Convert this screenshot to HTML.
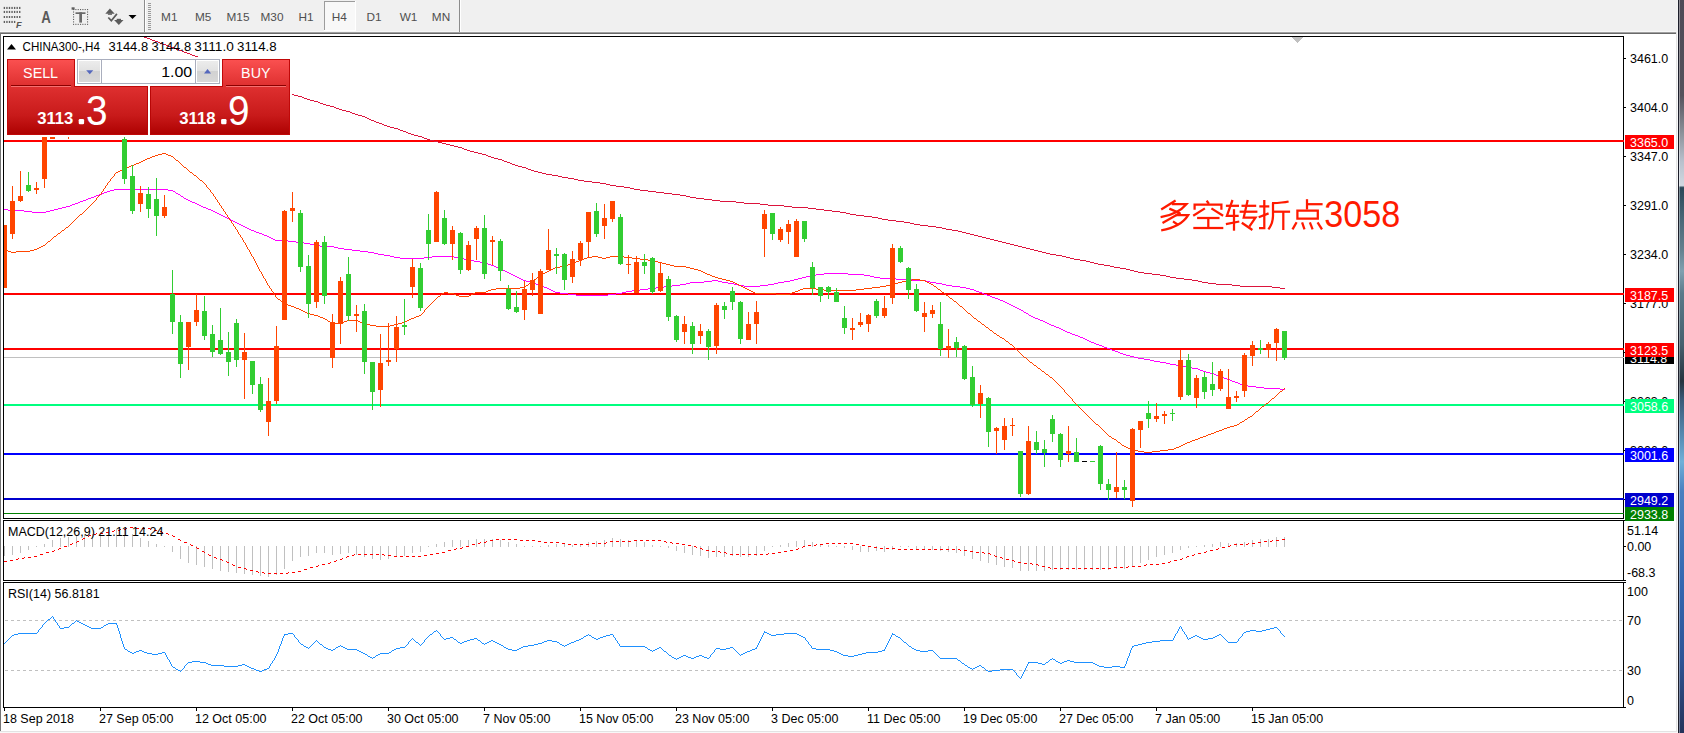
<!DOCTYPE html>
<html><head><meta charset="utf-8"><title>CHINA300 H4</title>
<style>html,body{margin:0;padding:0;background:#fff}body{width:1684px;height:733px;overflow:hidden;position:relative}</style></head>
<body>
<svg width="1684" height="733" viewBox="0 0 1684 733" style="position:absolute;left:0;top:0;font-family:'Liberation Sans',sans-serif">
<defs>
<linearGradient id="gSell" x1="0" y1="0" x2="0" y2="1"><stop offset="0" stop-color="#fb5151"/><stop offset="1" stop-color="#de2f2f"/></linearGradient>
<linearGradient id="gPrice" x1="0" y1="0" x2="0" y2="1"><stop offset="0" stop-color="#df3030"/><stop offset="0.6" stop-color="#c81a1a"/><stop offset="1" stop-color="#ad0000"/></linearGradient>
<linearGradient id="gBtn" x1="0" y1="0" x2="0" y2="1"><stop offset="0" stop-color="#ececec"/><stop offset="0.45" stop-color="#e2e2e2"/><stop offset="0.5" stop-color="#d2d2d2"/><stop offset="1" stop-color="#d8d8d8"/></linearGradient>
<linearGradient id="gEdge" x1="0" y1="0" x2="0" y2="1"><stop offset="0" stop-color="#4e4a56"/><stop offset="0.13" stop-color="#55525c"/><stop offset="0.15" stop-color="#6a6a74"/><stop offset="0.18" stop-color="#8a9098"/><stop offset="0.22" stop-color="#b8c0cc"/><stop offset="0.253" stop-color="#d0d8e0"/><stop offset="0.256" stop-color="#2a4858"/><stop offset="0.3" stop-color="#4a6878"/><stop offset="0.34" stop-color="#64808e"/><stop offset="0.37" stop-color="#80a0b0"/><stop offset="0.4" stop-color="#5a7a8a"/><stop offset="0.47" stop-color="#46606e"/><stop offset="0.52" stop-color="#26343f"/><stop offset="0.545" stop-color="#3a5a78"/><stop offset="0.6" stop-color="#5a90b8"/><stop offset="0.63" stop-color="#70b0d8"/><stop offset="0.67" stop-color="#4a80c0"/><stop offset="0.8" stop-color="#3466b0"/><stop offset="0.9" stop-color="#2e5496"/><stop offset="0.96" stop-color="#2a4070"/><stop offset="1" stop-color="#24335a"/></linearGradient>
<clipPath id="clipMain"><rect x="4" y="37" width="1619" height="481"/></clipPath>
</defs>
<g shape-rendering="crispEdges">
<rect x="0" y="0" width="1684" height="733" fill="#ffffff"/>
<rect x="0" y="0" width="1677" height="32" fill="#f0f0f0"/>
<rect x="0" y="31" width="1677" height="1" fill="#f7f7f7"/>
<rect x="0" y="32" width="1676" height="1" fill="#a0a0a0"/>
<rect x="0" y="33" width="1676" height="1" fill="#696969"/>
<rect x="0" y="33" width="1" height="698" fill="#747474"/>
<rect x="1676" y="0" width="1" height="733" fill="#e3e3e3"/>
<rect x="1676" y="0" width="1" height="32" fill="#f0f0f0"/>
<rect x="1677" y="0" width="1" height="733" fill="#fafafa"/>
<rect x="1677" y="0" width="1" height="32" fill="#f4f4f4"/>
<rect x="1678" y="0" width="1" height="733" fill="#1c1e2a"/>
<rect x="1679" y="0" width="5" height="733" fill="url(#gEdge)"/>
<rect x="1679" y="0" width="1" height="733" fill="#ffffff" opacity="0.38"/>
<rect x="0" y="731" width="1677" height="1" fill="#e3e3e3"/>
<rect x="0" y="732" width="1677" height="1" fill="#f8f8f8"/>
<rect x="3" y="36" width="1621" height="1" fill="#000"/>
<rect x="3" y="36" width="1" height="483" fill="#000"/>
<rect x="1623" y="36" width="1" height="483" fill="#000"/>
<rect x="3" y="518" width="1621" height="1" fill="#000"/>
<rect x="3" y="520" width="1621" height="1" fill="#000"/>
<rect x="3" y="520" width="1" height="61" fill="#000"/>
<rect x="1623" y="520" width="1" height="61" fill="#000"/>
<rect x="3" y="580" width="1621" height="1" fill="#000"/>
<rect x="3" y="582" width="1621" height="1" fill="#000"/>
<rect x="3" y="582" width="1" height="126" fill="#000"/>
<rect x="1623" y="582" width="1" height="126" fill="#000"/>
<rect x="3" y="707" width="1621" height="1" fill="#000"/>
</g>
<g shape-rendering="crispEdges" clip-path="url(#clipMain)">
<rect x="4" y="140" width="1619" height="2" fill="#ff0000"/>
<rect x="4" y="293" width="1619" height="2" fill="#ff0000"/>
<rect x="4" y="348" width="1619" height="2" fill="#ff0000"/>
<rect x="4" y="357" width="1619" height="1" fill="#c0c0c0"/>
<rect x="4" y="404" width="1619" height="2" fill="#00ff7f"/>
<rect x="4" y="453" width="1619" height="2" fill="#0000ff"/>
<rect x="4" y="498" width="1619" height="2" fill="#0000cd"/>
<rect x="4" y="513" width="1619" height="1" fill="#008000"/>
<path d="M132,32.5h2M134,33.5h2M136,34.5h3M139,35.5h3M142,36.5h2M144,37.5h3M147,38.5h3M150,39.5h2M152,40.5h3M155,41.5h3M158,42.5h2M160,43.5h3M163,44.5h3M166,45.5h2M168,46.5h3M171,47.5h3M174,48.5h2M176,49.5h3M179,50.5h3M182,51.5h2M184,52.5h3M187,53.5h3M190,54.5h2M192,55.5h3M195,56.5h3M198,57.5h2M200,58.5h3M203,59.5h3M206,60.5h2M208,61.5h3M211,62.5h3M214,63.5h2M216,64.5h3M219,65.5h3M222,66.5h2M224,67.5h3M227,68.5h3M230,69.5h2M232,70.5h3M235,71.5h2M237,72.5h2M239,73.5h2M241,74.5h2M243,75.5h3M246,76.5h2M248,77.5h3M251,78.5h3M254,79.5h2M256,80.5h3M259,81.5h3M262,82.5h2M264,83.5h3M267,84.5h3M270,85.5h2M272,86.5h3M275,87.5h3M278,88.5h2M280,89.5h3M283,90.5h2M285,91.5h2M287,92.5h2M289,93.5h2M291,94.5h3M294,95.5h4M298,96.5h4M302,97.5h2M304,98.5h3M307,99.5h3M310,100.5h4M314,101.5h4M318,102.5h2M320,103.5h3M323,104.5h3M326,105.5h4M330,106.5h4M334,107.5h2M336,108.5h3M339,109.5h3M342,110.5h4M346,111.5h4M350,112.5h2M352,113.5h3M355,114.5h3M358,115.5h4M362,116.5h3M365,117.5h2M367,118.5h2M369,119.5h2M371,120.5h3M374,121.5h2M376,122.5h3M379,123.5h3M382,124.5h2M384,125.5h3M387,126.5h3M390,127.5h4M394,128.5h4M398,129.5h2M400,130.5h3M403,131.5h3M406,132.5h2M408,133.5h3M411,134.5h3M414,135.5h4M418,136.5h4M422,137.5h2M424,138.5h3M427,139.5h3M430,140.5h4M434,141.5h4M438,142.5h4M442,143.5h4M446,144.5h4M450,145.5h4M454,146.5h4M458,147.5h4M462,148.5h2M464,149.5h3M467,150.5h3M470,151.5h4M474,152.5h4M478,153.5h4M482,154.5h4M486,155.5h2M488,156.5h3M491,157.5h3M494,158.5h4M498,159.5h4M502,160.5h2M504,161.5h3M507,162.5h3M510,163.5h2M512,164.5h3M515,165.5h3M518,166.5h4M522,167.5h4M526,168.5h2M528,169.5h3M531,170.5h3M534,171.5h4M538,172.5h4M542,173.5h4M546,174.5h6M552,175.5h6M558,176.5h4M562,177.5h6M568,178.5h6M574,179.5h4M578,180.5h6M584,181.5h8M592,182.5h8M600,183.5h6M606,184.5h4M610,185.5h6M616,186.5h8M624,187.5h6M630,188.5h4M634,189.5h6M640,190.5h8M648,191.5h8M656,192.5h8M664,193.5h8M672,194.5h8M680,195.5h6M686,196.5h4M690,197.5h6M696,198.5h8M704,199.5h8M712,200.5h8M720,201.5h16M736,202.5h8M744,203.5h16M760,204.5h8M768,205.5h16M784,206.5h8M792,207.5h16M808,208.5h8M816,209.5h8M824,210.5h8M832,211.5h8M840,212.5h6M846,213.5h4M850,214.5h6M856,215.5h8M864,216.5h8M872,217.5h6M878,218.5h4M882,219.5h6M888,220.5h8M896,221.5h8M904,222.5h6M910,223.5h4M914,224.5h6M920,225.5h8M928,226.5h8M936,227.5h6M942,228.5h4M946,229.5h6M952,230.5h6M958,231.5h4M962,232.5h4M966,233.5h4M970,234.5h4M974,235.5h4M978,236.5h4M982,237.5h4M986,238.5h4M990,239.5h4M994,240.5h4M998,241.5h4M1002,242.5h4M1006,243.5h4M1010,244.5h4M1014,245.5h4M1018,246.5h4M1022,247.5h4M1026,248.5h4M1030,249.5h4M1034,250.5h4M1038,251.5h4M1042,252.5h4M1046,253.5h4M1050,254.5h6M1056,255.5h6M1062,256.5h4M1066,257.5h4M1070,258.5h4M1074,259.5h6M1080,260.5h6M1086,261.5h4M1090,262.5h4M1094,263.5h4M1098,264.5h6M1104,265.5h6M1110,266.5h4M1114,267.5h6M1120,268.5h6M1126,269.5h4M1130,270.5h4M1134,271.5h4M1138,272.5h6M1144,273.5h8M1152,274.5h8M1160,275.5h6M1166,276.5h4M1170,277.5h6M1176,278.5h8M1184,279.5h8M1192,280.5h6M1198,281.5h4M1202,282.5h6M1208,283.5h8M1216,284.5h16M1232,285.5h8M1240,286.5h32M1272,287.5h8M1280,288.5h5" fill="none" stroke="#dc143c" stroke-width="1"/>
<path d="M114,189.5h54M110,190.5h4M168,190.5h5M107,191.5h3M173,191.5h2M104,192.5h3M102,193.5h2M176,193.5h2M99,194.5h3M178,194.5h2M96,195.5h3M94,196.5h2M181,196.5h2M91,197.5h3M88,198.5h3M184,198.5h2M86,199.5h2M186,199.5h2M83,200.5h3M188,200.5h2M80,201.5h3M190,201.5h2M78,202.5h2M192,202.5h3M75,203.5h3M195,203.5h2M72,204.5h3M197,204.5h2M70,205.5h2M199,205.5h2M66,206.5h4M201,206.5h2M62,207.5h4M203,207.5h3M58,208.5h4M206,208.5h2M4,209.5h4M54,209.5h4M208,209.5h3M8,210.5h16M50,210.5h4M211,210.5h2M24,211.5h8M46,211.5h4M213,211.5h2M32,212.5h14M215,212.5h2M217,213.5h2M219,214.5h2M221,215.5h2M223,216.5h2M225,217.5h2M227,218.5h2M229,219.5h2M231,220.5h2M233,221.5h2M235,222.5h2M237,223.5h2M239,224.5h2M241,225.5h2M243,226.5h2M245,227.5h2M247,228.5h2M249,229.5h2M251,230.5h3M254,231.5h2M256,232.5h3M259,233.5h3M262,234.5h2M264,235.5h3M267,236.5h2M269,237.5h2M271,238.5h2M273,239.5h2M275,240.5h13M288,241.5h8M296,242.5h8M304,243.5h6M310,244.5h4M314,245.5h6M320,246.5h14M334,247.5h4M338,248.5h6M344,249.5h8M352,250.5h8M360,251.5h8M368,252.5h6M374,253.5h4M378,254.5h6M384,255.5h6M390,256.5h4M432,256.5h22M394,257.5h6M424,257.5h8M454,257.5h4M400,258.5h24M458,258.5h6M464,259.5h6M470,260.5h4M474,261.5h6M480,262.5h6M486,263.5h2M488,264.5h3M491,265.5h3M494,266.5h2M496,267.5h3M499,268.5h2M501,269.5h2M503,270.5h2M505,271.5h2M507,272.5h2M509,273.5h2M824,273.5h24M511,274.5h2M816,274.5h8M848,274.5h16M513,275.5h2M810,275.5h6M864,275.5h6M515,276.5h2M806,276.5h4M870,276.5h4M517,277.5h2M802,277.5h4M874,277.5h6M519,278.5h2M798,278.5h4M880,278.5h16M521,279.5h2M794,279.5h4M896,279.5h16M523,280.5h3M712,280.5h6M790,280.5h4M912,280.5h14M526,281.5h4M704,281.5h8M718,281.5h4M784,281.5h6M926,281.5h4M530,282.5h4M690,282.5h14M722,282.5h6M778,282.5h6M930,282.5h6M534,283.5h2M686,283.5h4M728,283.5h6M774,283.5h4M936,283.5h6M536,284.5h3M680,284.5h6M734,284.5h4M768,284.5h6M942,284.5h4M539,285.5h3M672,285.5h8M738,285.5h6M760,285.5h8M946,285.5h6M542,286.5h2M664,286.5h8M744,286.5h16M952,286.5h8M544,287.5h3M656,287.5h8M960,287.5h6M547,288.5h2M648,288.5h8M966,288.5h4M549,289.5h2M640,289.5h8M970,289.5h4M551,290.5h2M632,290.5h8M974,290.5h2M553,291.5h2M626,291.5h6M976,291.5h3M555,292.5h5M622,292.5h4M979,292.5h3M560,293.5h8M616,293.5h6M982,293.5h2M568,294.5h8M608,294.5h8M984,294.5h3M576,295.5h32M987,295.5h3M990,296.5h2M992,297.5h3M995,298.5h3M998,299.5h2M1000,300.5h3M1003,301.5h2M1005,302.5h2M1007,303.5h2M1009,304.5h2M1011,305.5h2M1013,306.5h2M1015,307.5h2M1017,308.5h2M1019,309.5h2M1021,310.5h2M1024,312.5h2M1026,313.5h2M1029,315.5h2M1031,316.5h2M1033,317.5h2M1035,318.5h3M1038,319.5h2M1040,320.5h3M1043,321.5h2M1045,322.5h2M1047,323.5h2M1049,324.5h2M1051,325.5h3M1054,326.5h2M1056,327.5h3M1059,328.5h2M1061,329.5h2M1063,330.5h2M1065,331.5h2M1067,332.5h3M1070,333.5h2M1072,334.5h3M1075,335.5h3M1078,336.5h2M1080,337.5h3M1083,338.5h2M1085,339.5h2M1087,340.5h2M1089,341.5h2M1091,342.5h3M1094,343.5h2M1096,344.5h3M1099,345.5h3M1102,346.5h2M1104,347.5h3M1107,348.5h3M1110,349.5h2M1112,350.5h3M1115,351.5h3M1118,352.5h2M1120,353.5h3M1123,354.5h3M1126,355.5h4M1130,356.5h4M1134,357.5h4M1138,358.5h6M1144,359.5h6M1150,360.5h4M1154,361.5h6M1160,362.5h6M1166,363.5h4M1170,364.5h6M1176,365.5h6M1182,366.5h4M1186,367.5h6M1192,368.5h6M1198,369.5h2M1200,370.5h3M1203,371.5h3M1206,372.5h4M1210,373.5h4M1214,374.5h2M1216,375.5h3M1219,376.5h3M1222,377.5h2M1224,378.5h3M1227,379.5h3M1230,380.5h2M1232,381.5h3M1235,382.5h3M1238,383.5h2M1240,384.5h3M1243,385.5h5M1248,386.5h8M1256,387.5h8M1264,388.5h16M1280,389.5h5M175.5,192v1M180.5,195v1M183.5,197v1M1023.5,311v1M1028.5,314v1" fill="none" stroke="#ff00ff" stroke-width="1"/>
<path d="M162,153.5h4M158,154.5h4M166,154.5h2M155,155.5h3M168,155.5h3M152,156.5h3M171,156.5h2M150,157.5h2M147,158.5h3M145,159.5h2M143,160.5h2M176,160.5h2M141,161.5h2M139,162.5h2M136,163.5h3M134,164.5h2M131,165.5h3M129,166.5h2M127,167.5h2M184,167.5h2M125,168.5h2M123,169.5h2M120,170.5h3M118,171.5h2M116,172.5h2M190,172.5h2M194,175.5h2M200,180.5h2M80,214.5h2M66,227.5h2M62,230.5h2M58,233.5h2M54,236.5h2M48,241.5h2M43,245.5h2M41,246.5h2M39,247.5h2M37,248.5h2M4,249.5h2M34,249.5h3M6,250.5h2M30,250.5h4M8,251.5h3M16,251.5h14M11,252.5h5M592,256.5h6M610,256.5h14M587,257.5h5M598,257.5h4M606,257.5h4M624,257.5h8M584,258.5h3M602,258.5h4M632,258.5h8M582,259.5h2M640,259.5h8M579,260.5h3M648,260.5h6M576,261.5h3M654,261.5h4M574,262.5h2M658,262.5h4M571,263.5h3M662,263.5h4M568,264.5h3M666,264.5h4M566,265.5h2M670,265.5h4M560,266.5h6M674,266.5h12M555,267.5h5M686,267.5h4M553,268.5h2M690,268.5h4M551,269.5h2M694,269.5h4M549,270.5h2M698,270.5h3M547,271.5h2M701,271.5h2M545,272.5h2M703,272.5h2M543,273.5h2M705,273.5h2M541,274.5h2M707,274.5h3M710,275.5h2M538,276.5h2M712,276.5h3M715,277.5h3M718,278.5h4M534,279.5h2M722,279.5h4M912,279.5h8M726,280.5h4M906,280.5h6M920,280.5h5M730,281.5h3M902,281.5h4M925,281.5h2M530,282.5h2M733,282.5h2M898,282.5h4M927,282.5h2M735,283.5h2M894,283.5h4M929,283.5h2M737,284.5h2M890,284.5h4M931,284.5h2M526,285.5h2M739,285.5h2M886,285.5h4M741,286.5h2M880,286.5h6M934,286.5h2M520,287.5h5M743,287.5h2M872,287.5h8M496,288.5h24M745,288.5h2M803,288.5h13M864,288.5h8M491,289.5h5M747,289.5h2M800,289.5h3M816,289.5h8M856,289.5h8M938,289.5h2M488,290.5h3M749,290.5h2M798,290.5h2M824,290.5h32M486,291.5h2M751,291.5h2M795,291.5h3M444,292.5h4M475,292.5h11M753,292.5h2M792,292.5h3M942,292.5h2M442,293.5h2M448,293.5h6M473,293.5h2M755,293.5h21M790,293.5h2M454,294.5h2M471,294.5h2M776,294.5h14M456,295.5h3M469,295.5h2M946,295.5h2M438,296.5h2M459,296.5h10M950,298.5h2M278,299.5h2M954,301.5h2M282,302.5h2M284,303.5h2M286,304.5h2M288,305.5h3M291,306.5h3M960,306.5h2M294,307.5h2M296,308.5h3M299,309.5h2M301,310.5h2M303,311.5h2M305,312.5h2M307,313.5h3M968,313.5h2M310,314.5h4M314,315.5h4M419,315.5h2M318,316.5h2M416,316.5h3M320,317.5h3M414,317.5h2M323,318.5h2M411,318.5h3M974,318.5h2M325,319.5h2M409,319.5h2M347,320.5h11M407,320.5h2M328,321.5h2M344,321.5h3M358,321.5h2M405,321.5h2M978,321.5h2M330,322.5h2M342,322.5h2M360,322.5h3M402,322.5h3M332,323.5h10M363,323.5h3M398,323.5h4M366,324.5h4M394,324.5h4M982,324.5h2M370,325.5h6M390,325.5h4M376,326.5h14M986,327.5h2M990,330.5h2M994,333.5h2M997,335.5h2M1000,337.5h2M1002,338.5h2M1006,341.5h2M1010,344.5h2M1024,357.5h2M1030,362.5h2M1034,365.5h2M1038,368.5h2M1042,371.5h2M1046,374.5h2M1050,377.5h2M1280,391.5h2M1272,398.5h2M1266,403.5h2M1262,406.5h2M1256,411.5h2M1250,416.5h2M1248,417.5h2M1245,419.5h2M1242,421.5h2M1240,422.5h2M1096,424.5h2M1237,424.5h2M1234,425.5h3M1230,426.5h4M1227,427.5h3M1224,428.5h3M1222,429.5h2M1219,430.5h3M1216,431.5h3M1214,432.5h2M1211,433.5h3M1208,434.5h3M1206,435.5h2M1109,436.5h2M1203,436.5h3M1200,437.5h3M1112,438.5h2M1198,438.5h2M1114,439.5h2M1195,439.5h3M1192,440.5h3M1190,441.5h2M1118,442.5h2M1187,442.5h3M1185,443.5h2M1183,444.5h2M1122,445.5h2M1181,445.5h2M1124,446.5h2M1179,446.5h2M1126,447.5h2M1176,447.5h3M1128,448.5h3M1174,448.5h2M1131,449.5h3M1168,449.5h6M1134,450.5h4M1160,450.5h8M1138,451.5h6M1152,451.5h8M1144,452.5h8M45.5,244v1M46.5,243v1M47.5,242v1M50.5,240v1M51.5,239v1M52.5,238v1M53.5,237v1M56.5,235v1M57.5,234v1M60.5,232v1M61.5,231v1M64.5,229v1M65.5,228v1M68.5,226v1M69.5,225v1M70.5,224v1M71.5,223v1M72.5,222v1M73.5,221v1M74.5,220v1M75.5,219v1M76.5,218v1M77.5,217v1M78.5,216v1M79.5,215v1M82.5,213v1M83.5,212v1M84.5,211v1M85.5,210v1M86.5,209v1M87.5,208v1M88.5,207v1M89.5,206v1M90.5,205v1M91.5,204v1M92.5,203v1M93.5,202v1M94.5,201v1M95.5,200v1M96.5,198v2M97.5,197v1M98.5,196v1M99.5,195v1M100.5,194v1M101.5,192v2M102.5,191v1M103.5,189v2M104.5,188v1M105.5,186v2M106.5,185v1M107.5,183v2M108.5,182v1M109.5,181v1M110.5,179v2M111.5,178v1M112.5,177v1M113.5,176v1M114.5,174v2M115.5,173v1M173.5,157v1M174.5,158v1M175.5,159v1M178.5,161v1M179.5,162v1M180.5,163v1M181.5,164v1M182.5,165v1M183.5,166v1M186.5,168v1M187.5,169v1M188.5,170v1M189.5,171v1M192.5,173v1M193.5,174v1M196.5,176v1M197.5,177v1M198.5,178v1M199.5,179v1M202.5,181v1M203.5,182v1M204.5,183v1M205.5,184v1M206.5,185v2M207.5,187v1M208.5,188v1M209.5,189v1M210.5,190v2M211.5,192v1M212.5,193v1M213.5,194v2M214.5,196v1M215.5,197v2M216.5,199v1M217.5,200v2M218.5,202v1M219.5,203v2M220.5,205v1M221.5,206v2M222.5,208v1M223.5,209v2M224.5,211v1M225.5,212v2M226.5,214v1M227.5,215v2M228.5,217v1M229.5,218v2M230.5,220v1M231.5,221v2M232.5,223v1M233.5,224v2M234.5,226v1M235.5,227v2M236.5,229v1M237.5,230v2M238.5,232v2M239.5,234v1M240.5,235v2M241.5,237v1M242.5,238v2M243.5,240v2M244.5,242v1M245.5,243v2M246.5,245v2M247.5,247v2M248.5,249v1M249.5,250v2M250.5,252v2M251.5,254v2M252.5,256v1M253.5,257v2M254.5,259v2M255.5,261v2M256.5,263v2M257.5,265v2M258.5,267v2M259.5,269v2M260.5,271v1M261.5,272v2M262.5,274v2M263.5,276v2M264.5,278v1M265.5,279v2M266.5,281v2M267.5,283v2M268.5,285v1M269.5,286v2M270.5,288v1M271.5,289v2M272.5,291v1M273.5,292v2M274.5,294v1M275.5,295v2M276.5,297v1M277.5,298v1M280.5,300v1M281.5,301v1M327.5,320v1M421.5,314v1M422.5,313v1M423.5,312v1M424.5,310v2M425.5,309v1M426.5,308v1M427.5,307v1M428.5,306v1M429.5,305v1M430.5,304v1M431.5,303v1M432.5,302v1M433.5,301v1M434.5,300v1M435.5,299v1M436.5,298v1M437.5,297v1M440.5,295v1M441.5,294v1M525.5,286v1M528.5,284v1M529.5,283v1M532.5,281v1M533.5,280v1M536.5,278v1M537.5,277v1M540.5,275v1M933.5,285v1M936.5,287v1M937.5,288v1M940.5,290v1M941.5,291v1M944.5,293v1M945.5,294v1M948.5,296v1M949.5,297v1M952.5,299v1M953.5,300v1M956.5,302v1M957.5,303v1M958.5,304v1M959.5,305v1M962.5,307v1M963.5,308v1M964.5,309v1M965.5,310v1M966.5,311v1M967.5,312v1M970.5,314v1M971.5,315v1M972.5,316v1M973.5,317v1M976.5,319v1M977.5,320v1M980.5,322v1M981.5,323v1M984.5,325v1M985.5,326v1M988.5,328v1M989.5,329v1M992.5,331v1M993.5,332v1M996.5,334v1M999.5,336v1M1004.5,339v1M1005.5,340v1M1008.5,342v1M1009.5,343v1M1012.5,345v1M1013.5,346v1M1014.5,347v1M1015.5,348v1M1016.5,349v1M1017.5,350v1M1018.5,351v1M1019.5,352v1M1020.5,353v1M1021.5,354v1M1022.5,355v1M1023.5,356v1M1026.5,358v1M1027.5,359v1M1028.5,360v1M1029.5,361v1M1032.5,363v1M1033.5,364v1M1036.5,366v1M1037.5,367v1M1040.5,369v1M1041.5,370v1M1044.5,372v1M1045.5,373v1M1048.5,375v1M1049.5,376v1M1052.5,378v1M1053.5,379v1M1054.5,380v1M1055.5,381v1M1056.5,382v1M1057.5,383v1M1058.5,384v1M1059.5,385v1M1060.5,386v1M1061.5,387v1M1062.5,388v1M1063.5,389v1M1064.5,390v2M1065.5,392v1M1066.5,393v1M1067.5,394v1M1068.5,395v1M1069.5,396v1M1070.5,397v1M1071.5,398v1M1072.5,399v2M1073.5,401v1M1074.5,402v1M1075.5,403v1M1076.5,404v1M1077.5,405v1M1078.5,406v1M1079.5,407v1M1080.5,408v1M1081.5,409v1M1082.5,410v1M1083.5,411v1M1084.5,412v1M1085.5,413v1M1086.5,414v1M1087.5,415v1M1088.5,416v1M1089.5,417v1M1090.5,418v1M1091.5,419v1M1092.5,420v1M1093.5,421v1M1094.5,422v1M1095.5,423v1M1098.5,425v1M1099.5,426v1M1100.5,427v1M1101.5,428v1M1102.5,429v1M1103.5,430v1M1104.5,431v1M1105.5,432v1M1106.5,433v1M1107.5,434v1M1108.5,435v1M1111.5,437v1M1116.5,440v1M1117.5,441v1M1120.5,443v1M1121.5,444v1M1239.5,423v1M1244.5,420v1M1247.5,418v1M1252.5,415v1M1253.5,414v1M1254.5,413v1M1255.5,412v1M1258.5,410v1M1259.5,409v1M1260.5,408v1M1261.5,407v1M1264.5,405v1M1265.5,404v1M1268.5,402v1M1269.5,401v1M1270.5,400v1M1271.5,399v1M1274.5,397v1M1275.5,396v1M1276.5,395v1M1277.5,394v1M1278.5,393v1M1279.5,392v1M1282.5,390v1M1283.5,389v1M1284.5,388v1" fill="none" stroke="#ff4500" stroke-width="1"/>
<rect x="4" y="225" width="1" height="63" fill="#ff4500"/>
<rect x="2" y="225" width="5" height="63" fill="#ff4500"/>
<rect x="12" y="186" width="1" height="53" fill="#ff4500"/>
<rect x="10" y="201" width="5" height="33" fill="#ff4500"/>
<rect x="20" y="171" width="1" height="31" fill="#ff4500"/>
<rect x="18" y="196" width="5" height="5" fill="#ff4500"/>
<rect x="28" y="172" width="1" height="20" fill="#32cd32"/>
<rect x="26" y="185" width="5" height="6" fill="#32cd32"/>
<rect x="36" y="182" width="1" height="12" fill="#ff4500"/>
<rect x="34" y="188" width="5" height="2" fill="#ff4500"/>
<rect x="44" y="128" width="1" height="60" fill="#ff4500"/>
<rect x="42" y="130" width="5" height="49" fill="#ff4500"/>
<rect x="52" y="118" width="1" height="21" fill="#ff4500"/>
<rect x="50" y="120" width="5" height="19" fill="#ff4500"/>
<rect x="68" y="118" width="1" height="21" fill="#ff4500"/>
<rect x="66" y="120" width="5" height="10" fill="#ff4500"/>
<rect x="124" y="128" width="1" height="56" fill="#32cd32"/>
<rect x="122" y="139" width="5" height="40" fill="#32cd32"/>
<rect x="132" y="165" width="1" height="49" fill="#32cd32"/>
<rect x="130" y="176" width="5" height="35" fill="#32cd32"/>
<rect x="140" y="186" width="1" height="26" fill="#ff4500"/>
<rect x="138" y="193" width="5" height="11" fill="#ff4500"/>
<rect x="148" y="187" width="1" height="31" fill="#32cd32"/>
<rect x="146" y="194" width="5" height="15" fill="#32cd32"/>
<rect x="156" y="178" width="1" height="58" fill="#32cd32"/>
<rect x="154" y="199" width="5" height="17" fill="#32cd32"/>
<rect x="164" y="195" width="1" height="23" fill="#ff4500"/>
<rect x="162" y="207" width="5" height="9" fill="#ff4500"/>
<rect x="172" y="270" width="1" height="64" fill="#32cd32"/>
<rect x="170" y="294" width="5" height="28" fill="#32cd32"/>
<rect x="180" y="315" width="1" height="63" fill="#32cd32"/>
<rect x="178" y="322" width="5" height="42" fill="#32cd32"/>
<rect x="188" y="322" width="1" height="48" fill="#ff4500"/>
<rect x="186" y="322" width="5" height="25" fill="#ff4500"/>
<rect x="196" y="294" width="1" height="32" fill="#ff4500"/>
<rect x="194" y="310" width="5" height="12" fill="#ff4500"/>
<rect x="204" y="296" width="1" height="44" fill="#32cd32"/>
<rect x="202" y="311" width="5" height="25" fill="#32cd32"/>
<rect x="212" y="325" width="1" height="32" fill="#32cd32"/>
<rect x="210" y="334" width="5" height="18" fill="#32cd32"/>
<rect x="220" y="308" width="1" height="47" fill="#32cd32"/>
<rect x="218" y="340" width="5" height="14" fill="#32cd32"/>
<rect x="228" y="332" width="1" height="44" fill="#32cd32"/>
<rect x="226" y="352" width="5" height="10" fill="#32cd32"/>
<rect x="236" y="319" width="1" height="48" fill="#32cd32"/>
<rect x="234" y="323" width="5" height="37" fill="#32cd32"/>
<rect x="244" y="333" width="1" height="66" fill="#ff4500"/>
<rect x="242" y="352" width="5" height="8" fill="#ff4500"/>
<rect x="252" y="361" width="1" height="33" fill="#32cd32"/>
<rect x="250" y="361" width="5" height="24" fill="#32cd32"/>
<rect x="260" y="377" width="1" height="35" fill="#32cd32"/>
<rect x="258" y="384" width="5" height="26" fill="#32cd32"/>
<rect x="268" y="378" width="1" height="58" fill="#ff4500"/>
<rect x="266" y="401" width="5" height="21" fill="#ff4500"/>
<rect x="276" y="326" width="1" height="78" fill="#ff4500"/>
<rect x="274" y="346" width="5" height="55" fill="#ff4500"/>
<rect x="284" y="210" width="1" height="110" fill="#ff4500"/>
<rect x="282" y="211" width="5" height="109" fill="#ff4500"/>
<rect x="292" y="192" width="1" height="30" fill="#ff4500"/>
<rect x="290" y="208" width="5" height="3" fill="#ff4500"/>
<rect x="300" y="210" width="1" height="62" fill="#32cd32"/>
<rect x="298" y="213" width="5" height="54" fill="#32cd32"/>
<rect x="308" y="255" width="1" height="63" fill="#32cd32"/>
<rect x="306" y="266" width="5" height="38" fill="#32cd32"/>
<rect x="316" y="240" width="1" height="68" fill="#ff4500"/>
<rect x="314" y="242" width="5" height="60" fill="#ff4500"/>
<rect x="324" y="236" width="1" height="68" fill="#32cd32"/>
<rect x="322" y="242" width="5" height="54" fill="#32cd32"/>
<rect x="332" y="314" width="1" height="54" fill="#ff4500"/>
<rect x="330" y="322" width="5" height="36" fill="#ff4500"/>
<rect x="340" y="277" width="1" height="67" fill="#ff4500"/>
<rect x="338" y="281" width="5" height="43" fill="#ff4500"/>
<rect x="348" y="257" width="1" height="64" fill="#32cd32"/>
<rect x="346" y="274" width="5" height="42" fill="#32cd32"/>
<rect x="356" y="305" width="1" height="27" fill="#ff4500"/>
<rect x="354" y="314" width="5" height="2" fill="#ff4500"/>
<rect x="364" y="304" width="1" height="70" fill="#32cd32"/>
<rect x="362" y="311" width="5" height="51" fill="#32cd32"/>
<rect x="372" y="362" width="1" height="48" fill="#32cd32"/>
<rect x="370" y="362" width="5" height="30" fill="#32cd32"/>
<rect x="380" y="334" width="1" height="73" fill="#ff4500"/>
<rect x="378" y="363" width="5" height="27" fill="#ff4500"/>
<rect x="388" y="323" width="1" height="43" fill="#ff4500"/>
<rect x="386" y="360" width="5" height="2" fill="#ff4500"/>
<rect x="396" y="316" width="1" height="46" fill="#ff4500"/>
<rect x="394" y="327" width="5" height="22" fill="#ff4500"/>
<rect x="404" y="299" width="1" height="36" fill="#32cd32"/>
<rect x="402" y="325" width="5" height="2" fill="#32cd32"/>
<rect x="412" y="259" width="1" height="39" fill="#ff4500"/>
<rect x="410" y="267" width="5" height="20" fill="#ff4500"/>
<rect x="420" y="263" width="1" height="48" fill="#32cd32"/>
<rect x="418" y="268" width="5" height="40" fill="#32cd32"/>
<rect x="428" y="214" width="1" height="46" fill="#32cd32"/>
<rect x="426" y="230" width="5" height="14" fill="#32cd32"/>
<rect x="436" y="191" width="1" height="51" fill="#ff4500"/>
<rect x="434" y="192" width="5" height="50" fill="#ff4500"/>
<rect x="444" y="210" width="1" height="35" fill="#32cd32"/>
<rect x="442" y="218" width="5" height="26" fill="#32cd32"/>
<rect x="452" y="226" width="1" height="34" fill="#ff4500"/>
<rect x="450" y="230" width="5" height="14" fill="#ff4500"/>
<rect x="460" y="232" width="1" height="42" fill="#32cd32"/>
<rect x="458" y="233" width="5" height="37" fill="#32cd32"/>
<rect x="468" y="241" width="1" height="30" fill="#ff4500"/>
<rect x="466" y="245" width="5" height="25" fill="#ff4500"/>
<rect x="476" y="226" width="1" height="34" fill="#ff4500"/>
<rect x="474" y="228" width="5" height="11" fill="#ff4500"/>
<rect x="484" y="215" width="1" height="64" fill="#32cd32"/>
<rect x="482" y="228" width="5" height="46" fill="#32cd32"/>
<rect x="492" y="236" width="1" height="29" fill="#ff4500"/>
<rect x="490" y="240" width="5" height="2" fill="#ff4500"/>
<rect x="500" y="239" width="1" height="42" fill="#32cd32"/>
<rect x="498" y="241" width="5" height="30" fill="#32cd32"/>
<rect x="508" y="285" width="1" height="25" fill="#32cd32"/>
<rect x="506" y="289" width="5" height="20" fill="#32cd32"/>
<rect x="516" y="291" width="1" height="22" fill="#32cd32"/>
<rect x="514" y="307" width="5" height="5" fill="#32cd32"/>
<rect x="524" y="281" width="1" height="39" fill="#ff4500"/>
<rect x="522" y="289" width="5" height="21" fill="#ff4500"/>
<rect x="532" y="273" width="1" height="23" fill="#ff4500"/>
<rect x="530" y="280" width="5" height="10" fill="#ff4500"/>
<rect x="540" y="269" width="1" height="45" fill="#ff4500"/>
<rect x="538" y="271" width="5" height="43" fill="#ff4500"/>
<rect x="548" y="229" width="1" height="41" fill="#ff4500"/>
<rect x="546" y="250" width="5" height="20" fill="#ff4500"/>
<rect x="556" y="248" width="1" height="26" fill="#32cd32"/>
<rect x="554" y="254" width="5" height="2" fill="#32cd32"/>
<rect x="564" y="253" width="1" height="37" fill="#32cd32"/>
<rect x="562" y="254" width="5" height="26" fill="#32cd32"/>
<rect x="572" y="251" width="1" height="32" fill="#ff4500"/>
<rect x="570" y="259" width="5" height="18" fill="#ff4500"/>
<rect x="580" y="241" width="1" height="25" fill="#ff4500"/>
<rect x="578" y="243" width="5" height="17" fill="#ff4500"/>
<rect x="588" y="212" width="1" height="46" fill="#ff4500"/>
<rect x="586" y="212" width="5" height="30" fill="#ff4500"/>
<rect x="596" y="203" width="1" height="34" fill="#32cd32"/>
<rect x="594" y="211" width="5" height="23" fill="#32cd32"/>
<rect x="604" y="204" width="1" height="35" fill="#ff4500"/>
<rect x="602" y="218" width="5" height="8" fill="#ff4500"/>
<rect x="612" y="201" width="1" height="21" fill="#ff4500"/>
<rect x="610" y="201" width="5" height="18" fill="#ff4500"/>
<rect x="620" y="214" width="1" height="51" fill="#32cd32"/>
<rect x="618" y="217" width="5" height="47" fill="#32cd32"/>
<rect x="628" y="255" width="1" height="19" fill="#ff4500"/>
<rect x="626" y="264" width="5" height="1" fill="#ff4500"/>
<rect x="636" y="256" width="1" height="37" fill="#ff4500"/>
<rect x="634" y="262" width="5" height="31" fill="#ff4500"/>
<rect x="644" y="254" width="1" height="20" fill="#32cd32"/>
<rect x="642" y="262" width="5" height="4" fill="#32cd32"/>
<rect x="652" y="257" width="1" height="37" fill="#32cd32"/>
<rect x="650" y="258" width="5" height="34" fill="#32cd32"/>
<rect x="660" y="262" width="1" height="30" fill="#ff4500"/>
<rect x="658" y="273" width="5" height="18" fill="#ff4500"/>
<rect x="668" y="276" width="1" height="45" fill="#32cd32"/>
<rect x="666" y="279" width="5" height="38" fill="#32cd32"/>
<rect x="676" y="315" width="1" height="27" fill="#32cd32"/>
<rect x="674" y="316" width="5" height="24" fill="#32cd32"/>
<rect x="684" y="316" width="1" height="28" fill="#ff4500"/>
<rect x="682" y="324" width="5" height="8" fill="#ff4500"/>
<rect x="692" y="322" width="1" height="32" fill="#32cd32"/>
<rect x="690" y="326" width="5" height="18" fill="#32cd32"/>
<rect x="700" y="324" width="1" height="20" fill="#ff4500"/>
<rect x="698" y="331" width="5" height="5" fill="#ff4500"/>
<rect x="708" y="329" width="1" height="31" fill="#32cd32"/>
<rect x="706" y="331" width="5" height="16" fill="#32cd32"/>
<rect x="716" y="303" width="1" height="51" fill="#ff4500"/>
<rect x="714" y="305" width="5" height="41" fill="#ff4500"/>
<rect x="724" y="302" width="1" height="17" fill="#32cd32"/>
<rect x="722" y="306" width="5" height="4" fill="#32cd32"/>
<rect x="732" y="287" width="1" height="23" fill="#32cd32"/>
<rect x="730" y="291" width="5" height="11" fill="#32cd32"/>
<rect x="740" y="301" width="1" height="43" fill="#32cd32"/>
<rect x="738" y="302" width="5" height="37" fill="#32cd32"/>
<rect x="748" y="312" width="1" height="28" fill="#ff4500"/>
<rect x="746" y="324" width="5" height="16" fill="#ff4500"/>
<rect x="756" y="301" width="1" height="43" fill="#ff4500"/>
<rect x="754" y="312" width="5" height="12" fill="#ff4500"/>
<rect x="764" y="210" width="1" height="47" fill="#ff4500"/>
<rect x="762" y="214" width="5" height="15" fill="#ff4500"/>
<rect x="772" y="213" width="1" height="27" fill="#32cd32"/>
<rect x="770" y="213" width="5" height="21" fill="#32cd32"/>
<rect x="780" y="227" width="1" height="15" fill="#ff4500"/>
<rect x="778" y="229" width="5" height="11" fill="#ff4500"/>
<rect x="788" y="220" width="1" height="24" fill="#ff4500"/>
<rect x="786" y="224" width="5" height="8" fill="#ff4500"/>
<rect x="796" y="219" width="1" height="38" fill="#ff4500"/>
<rect x="794" y="221" width="5" height="36" fill="#ff4500"/>
<rect x="804" y="221" width="1" height="21" fill="#32cd32"/>
<rect x="802" y="221" width="5" height="18" fill="#32cd32"/>
<rect x="812" y="262" width="1" height="33" fill="#32cd32"/>
<rect x="810" y="267" width="5" height="21" fill="#32cd32"/>
<rect x="820" y="287" width="1" height="15" fill="#32cd32"/>
<rect x="818" y="287" width="5" height="9" fill="#32cd32"/>
<rect x="828" y="286" width="1" height="13" fill="#32cd32"/>
<rect x="826" y="287" width="5" height="5" fill="#32cd32"/>
<rect x="836" y="288" width="1" height="14" fill="#32cd32"/>
<rect x="834" y="292" width="5" height="10" fill="#32cd32"/>
<rect x="844" y="306" width="1" height="28" fill="#32cd32"/>
<rect x="842" y="318" width="5" height="10" fill="#32cd32"/>
<rect x="852" y="318" width="1" height="22" fill="#ff4500"/>
<rect x="850" y="328" width="5" height="2" fill="#ff4500"/>
<rect x="860" y="313" width="1" height="14" fill="#ff4500"/>
<rect x="858" y="322" width="5" height="3" fill="#ff4500"/>
<rect x="868" y="314" width="1" height="18" fill="#ff4500"/>
<rect x="866" y="315" width="5" height="9" fill="#ff4500"/>
<rect x="876" y="299" width="1" height="19" fill="#32cd32"/>
<rect x="874" y="301" width="5" height="15" fill="#32cd32"/>
<rect x="884" y="296" width="1" height="22" fill="#ff4500"/>
<rect x="882" y="308" width="5" height="8" fill="#ff4500"/>
<rect x="892" y="244" width="1" height="60" fill="#ff4500"/>
<rect x="890" y="248" width="5" height="50" fill="#ff4500"/>
<rect x="900" y="246" width="1" height="17" fill="#32cd32"/>
<rect x="898" y="248" width="5" height="14" fill="#32cd32"/>
<rect x="908" y="267" width="1" height="32" fill="#32cd32"/>
<rect x="906" y="268" width="5" height="22" fill="#32cd32"/>
<rect x="916" y="284" width="1" height="28" fill="#32cd32"/>
<rect x="914" y="289" width="5" height="22" fill="#32cd32"/>
<rect x="924" y="302" width="1" height="30" fill="#ff4500"/>
<rect x="922" y="313" width="5" height="4" fill="#ff4500"/>
<rect x="932" y="305" width="1" height="13" fill="#ff4500"/>
<rect x="930" y="310" width="5" height="4" fill="#ff4500"/>
<rect x="940" y="302" width="1" height="54" fill="#32cd32"/>
<rect x="938" y="324" width="5" height="25" fill="#32cd32"/>
<rect x="948" y="329" width="1" height="29" fill="#ff4500"/>
<rect x="946" y="346" width="5" height="3" fill="#ff4500"/>
<rect x="956" y="337" width="1" height="20" fill="#32cd32"/>
<rect x="954" y="342" width="5" height="6" fill="#32cd32"/>
<rect x="964" y="345" width="1" height="35" fill="#32cd32"/>
<rect x="962" y="346" width="5" height="33" fill="#32cd32"/>
<rect x="972" y="366" width="1" height="41" fill="#32cd32"/>
<rect x="970" y="377" width="5" height="28" fill="#32cd32"/>
<rect x="980" y="385" width="1" height="33" fill="#ff4500"/>
<rect x="978" y="393" width="5" height="11" fill="#ff4500"/>
<rect x="988" y="397" width="1" height="50" fill="#32cd32"/>
<rect x="986" y="398" width="5" height="34" fill="#32cd32"/>
<rect x="996" y="427" width="1" height="27" fill="#ff4500"/>
<rect x="994" y="428" width="5" height="3" fill="#ff4500"/>
<rect x="1004" y="418" width="1" height="32" fill="#ff4500"/>
<rect x="1002" y="426" width="5" height="14" fill="#ff4500"/>
<rect x="1012" y="418" width="1" height="18" fill="#ff4500"/>
<rect x="1010" y="425" width="5" height="1" fill="#ff4500"/>
<rect x="1020" y="451" width="1" height="46" fill="#32cd32"/>
<rect x="1018" y="451" width="5" height="43" fill="#32cd32"/>
<rect x="1028" y="426" width="1" height="69" fill="#ff4500"/>
<rect x="1026" y="441" width="5" height="53" fill="#ff4500"/>
<rect x="1036" y="431" width="1" height="23" fill="#32cd32"/>
<rect x="1034" y="442" width="5" height="8" fill="#32cd32"/>
<rect x="1044" y="440" width="1" height="27" fill="#32cd32"/>
<rect x="1042" y="449" width="5" height="4" fill="#32cd32"/>
<rect x="1052" y="415" width="1" height="27" fill="#32cd32"/>
<rect x="1050" y="419" width="5" height="15" fill="#32cd32"/>
<rect x="1060" y="433" width="1" height="34" fill="#32cd32"/>
<rect x="1058" y="434" width="5" height="26" fill="#32cd32"/>
<rect x="1068" y="426" width="1" height="36" fill="#ff4500"/>
<rect x="1066" y="451" width="5" height="3" fill="#ff4500"/>
<rect x="1076" y="438" width="1" height="24" fill="#32cd32"/>
<rect x="1074" y="452" width="5" height="10" fill="#32cd32"/>
<rect x="1084" y="461" width="1" height="1" fill="#000"/>
<rect x="1082" y="461" width="5" height="1" fill="#000"/>
<rect x="1092" y="461" width="1" height="1" fill="#32cd32"/>
<rect x="1090" y="461" width="5" height="1" fill="#32cd32"/>
<rect x="1100" y="445" width="1" height="45" fill="#32cd32"/>
<rect x="1098" y="446" width="5" height="38" fill="#32cd32"/>
<rect x="1108" y="479" width="1" height="21" fill="#32cd32"/>
<rect x="1106" y="484" width="5" height="6" fill="#32cd32"/>
<rect x="1116" y="452" width="1" height="46" fill="#ff4500"/>
<rect x="1114" y="487" width="5" height="5" fill="#ff4500"/>
<rect x="1124" y="480" width="1" height="19" fill="#32cd32"/>
<rect x="1122" y="487" width="5" height="3" fill="#32cd32"/>
<rect x="1132" y="428" width="1" height="79" fill="#ff4500"/>
<rect x="1130" y="429" width="5" height="72" fill="#ff4500"/>
<rect x="1140" y="421" width="1" height="27" fill="#ff4500"/>
<rect x="1138" y="421" width="5" height="9" fill="#ff4500"/>
<rect x="1148" y="401" width="1" height="27" fill="#32cd32"/>
<rect x="1146" y="413" width="5" height="6" fill="#32cd32"/>
<rect x="1156" y="403" width="1" height="19" fill="#ff4500"/>
<rect x="1154" y="416" width="5" height="3" fill="#ff4500"/>
<rect x="1164" y="411" width="1" height="13" fill="#ff4500"/>
<rect x="1162" y="414" width="5" height="2" fill="#ff4500"/>
<rect x="1172" y="409" width="1" height="12" fill="#32cd32"/>
<rect x="1170" y="413" width="5" height="1" fill="#32cd32"/>
<rect x="1180" y="350" width="1" height="50" fill="#ff4500"/>
<rect x="1178" y="360" width="5" height="37" fill="#ff4500"/>
<rect x="1188" y="354" width="1" height="42" fill="#32cd32"/>
<rect x="1186" y="360" width="5" height="35" fill="#32cd32"/>
<rect x="1196" y="375" width="1" height="33" fill="#ff4500"/>
<rect x="1194" y="378" width="5" height="20" fill="#ff4500"/>
<rect x="1204" y="372" width="1" height="27" fill="#32cd32"/>
<rect x="1202" y="377" width="5" height="15" fill="#32cd32"/>
<rect x="1212" y="362" width="1" height="34" fill="#32cd32"/>
<rect x="1210" y="384" width="5" height="6" fill="#32cd32"/>
<rect x="1220" y="369" width="1" height="22" fill="#ff4500"/>
<rect x="1218" y="371" width="5" height="18" fill="#ff4500"/>
<rect x="1228" y="369" width="1" height="40" fill="#ff4500"/>
<rect x="1226" y="397" width="5" height="12" fill="#ff4500"/>
<rect x="1236" y="391" width="1" height="11" fill="#ff4500"/>
<rect x="1234" y="396" width="5" height="2" fill="#ff4500"/>
<rect x="1244" y="353" width="1" height="44" fill="#ff4500"/>
<rect x="1242" y="355" width="5" height="36" fill="#ff4500"/>
<rect x="1252" y="341" width="1" height="25" fill="#ff4500"/>
<rect x="1250" y="345" width="5" height="11" fill="#ff4500"/>
<rect x="1260" y="340" width="1" height="14" fill="#32cd32"/>
<rect x="1258" y="348" width="5" height="2" fill="#32cd32"/>
<rect x="1268" y="342" width="1" height="16" fill="#ff4500"/>
<rect x="1266" y="344" width="5" height="6" fill="#ff4500"/>
<rect x="1276" y="328" width="1" height="33" fill="#ff4500"/>
<rect x="1274" y="329" width="5" height="14" fill="#ff4500"/>
<rect x="1284" y="331" width="1" height="29" fill="#32cd32"/>
<rect x="1282" y="331" width="5" height="27" fill="#32cd32"/>
<polygon points="1291,37 1303,37 1297,43" fill="#c0c0c0"/>
</g>
<g shape-rendering="crispEdges">
<rect x="1623" y="140" width="1" height="2" fill="#ff0000"/>
<rect x="1623" y="293" width="1" height="2" fill="#ff0000"/>
<rect x="1623" y="348" width="1" height="2" fill="#ff0000"/>
<rect x="1623" y="357" width="1" height="1" fill="#c0c0c0"/>
<rect x="1623" y="404" width="1" height="2" fill="#00ff7f"/>
<rect x="1623" y="453" width="1" height="2" fill="#0000ff"/>
<rect x="1623" y="498" width="1" height="2" fill="#0000cd"/>
<rect x="1623" y="513" width="1" height="1" fill="#008000"/>
</g>
<g shape-rendering="crispEdges">
<rect x="4" y="546" width="1" height="10" fill="#c0c0c0"/>
<rect x="12" y="546" width="1" height="9" fill="#c0c0c0"/>
<rect x="20" y="546" width="1" height="7" fill="#c0c0c0"/>
<rect x="28" y="546" width="1" height="4" fill="#c0c0c0"/>
<rect x="36" y="546" width="1" height="1" fill="#c0c0c0"/>
<rect x="44" y="544" width="1" height="3" fill="#c0c0c0"/>
<rect x="52" y="540" width="1" height="7" fill="#c0c0c0"/>
<rect x="60" y="538" width="1" height="9" fill="#c0c0c0"/>
<rect x="68" y="537" width="1" height="10" fill="#c0c0c0"/>
<rect x="76" y="536" width="1" height="11" fill="#c0c0c0"/>
<rect x="84" y="535" width="1" height="12" fill="#c0c0c0"/>
<rect x="92" y="534" width="1" height="13" fill="#c0c0c0"/>
<rect x="100" y="532" width="1" height="15" fill="#c0c0c0"/>
<rect x="108" y="530" width="1" height="17" fill="#c0c0c0"/>
<rect x="116" y="529" width="1" height="18" fill="#c0c0c0"/>
<rect x="124" y="530" width="1" height="17" fill="#c0c0c0"/>
<rect x="132" y="534" width="1" height="13" fill="#c0c0c0"/>
<rect x="140" y="538" width="1" height="9" fill="#c0c0c0"/>
<rect x="148" y="541" width="1" height="6" fill="#c0c0c0"/>
<rect x="156" y="544" width="1" height="3" fill="#c0c0c0"/>
<rect x="164" y="546" width="1" height="1" fill="#c0c0c0"/>
<rect x="172" y="546" width="1" height="6" fill="#c0c0c0"/>
<rect x="180" y="546" width="1" height="13" fill="#c0c0c0"/>
<rect x="188" y="546" width="1" height="17" fill="#c0c0c0"/>
<rect x="196" y="546" width="1" height="19" fill="#c0c0c0"/>
<rect x="204" y="546" width="1" height="21" fill="#c0c0c0"/>
<rect x="212" y="546" width="1" height="23" fill="#c0c0c0"/>
<rect x="220" y="546" width="1" height="25" fill="#c0c0c0"/>
<rect x="228" y="546" width="1" height="26" fill="#c0c0c0"/>
<rect x="236" y="546" width="1" height="27" fill="#c0c0c0"/>
<rect x="244" y="546" width="1" height="28" fill="#c0c0c0"/>
<rect x="252" y="546" width="1" height="29" fill="#c0c0c0"/>
<rect x="260" y="546" width="1" height="30" fill="#c0c0c0"/>
<rect x="268" y="546" width="1" height="31" fill="#c0c0c0"/>
<rect x="276" y="546" width="1" height="29" fill="#c0c0c0"/>
<rect x="284" y="546" width="1" height="23" fill="#c0c0c0"/>
<rect x="292" y="546" width="1" height="15" fill="#c0c0c0"/>
<rect x="300" y="546" width="1" height="11" fill="#c0c0c0"/>
<rect x="308" y="546" width="1" height="10" fill="#c0c0c0"/>
<rect x="316" y="546" width="1" height="7" fill="#c0c0c0"/>
<rect x="324" y="546" width="1" height="7" fill="#c0c0c0"/>
<rect x="332" y="546" width="1" height="9" fill="#c0c0c0"/>
<rect x="340" y="546" width="1" height="8" fill="#c0c0c0"/>
<rect x="348" y="546" width="1" height="7" fill="#c0c0c0"/>
<rect x="356" y="546" width="1" height="9" fill="#c0c0c0"/>
<rect x="364" y="546" width="1" height="11" fill="#c0c0c0"/>
<rect x="372" y="546" width="1" height="13" fill="#c0c0c0"/>
<rect x="380" y="546" width="1" height="14" fill="#c0c0c0"/>
<rect x="388" y="546" width="1" height="13" fill="#c0c0c0"/>
<rect x="396" y="546" width="1" height="11" fill="#c0c0c0"/>
<rect x="404" y="546" width="1" height="10" fill="#c0c0c0"/>
<rect x="412" y="546" width="1" height="7" fill="#c0c0c0"/>
<rect x="420" y="546" width="1" height="6" fill="#c0c0c0"/>
<rect x="428" y="546" width="1" height="1" fill="#c0c0c0"/>
<rect x="436" y="544" width="1" height="3" fill="#c0c0c0"/>
<rect x="444" y="542" width="1" height="5" fill="#c0c0c0"/>
<rect x="452" y="540" width="1" height="7" fill="#c0c0c0"/>
<rect x="460" y="540" width="1" height="7" fill="#c0c0c0"/>
<rect x="468" y="540" width="1" height="7" fill="#c0c0c0"/>
<rect x="476" y="539" width="1" height="8" fill="#c0c0c0"/>
<rect x="484" y="539" width="1" height="8" fill="#c0c0c0"/>
<rect x="492" y="539" width="1" height="8" fill="#c0c0c0"/>
<rect x="500" y="540" width="1" height="7" fill="#c0c0c0"/>
<rect x="508" y="542" width="1" height="5" fill="#c0c0c0"/>
<rect x="516" y="544" width="1" height="3" fill="#c0c0c0"/>
<rect x="524" y="546" width="1" height="1" fill="#c0c0c0"/>
<rect x="532" y="546" width="1" height="1" fill="#c0c0c0"/>
<rect x="540" y="546" width="1" height="1" fill="#c0c0c0"/>
<rect x="548" y="545" width="1" height="2" fill="#c0c0c0"/>
<rect x="556" y="544" width="1" height="3" fill="#c0c0c0"/>
<rect x="564" y="544" width="1" height="3" fill="#c0c0c0"/>
<rect x="572" y="545" width="1" height="2" fill="#c0c0c0"/>
<rect x="580" y="544" width="1" height="3" fill="#c0c0c0"/>
<rect x="588" y="542" width="1" height="5" fill="#c0c0c0"/>
<rect x="596" y="541" width="1" height="6" fill="#c0c0c0"/>
<rect x="604" y="540" width="1" height="7" fill="#c0c0c0"/>
<rect x="612" y="538" width="1" height="9" fill="#c0c0c0"/>
<rect x="620" y="539" width="1" height="8" fill="#c0c0c0"/>
<rect x="628" y="540" width="1" height="7" fill="#c0c0c0"/>
<rect x="636" y="541" width="1" height="6" fill="#c0c0c0"/>
<rect x="644" y="542" width="1" height="5" fill="#c0c0c0"/>
<rect x="652" y="545" width="1" height="2" fill="#c0c0c0"/>
<rect x="660" y="546" width="1" height="1" fill="#c0c0c0"/>
<rect x="668" y="546" width="1" height="2" fill="#c0c0c0"/>
<rect x="676" y="546" width="1" height="5" fill="#c0c0c0"/>
<rect x="684" y="546" width="1" height="7" fill="#c0c0c0"/>
<rect x="692" y="546" width="1" height="9" fill="#c0c0c0"/>
<rect x="700" y="546" width="1" height="10" fill="#c0c0c0"/>
<rect x="708" y="546" width="1" height="12" fill="#c0c0c0"/>
<rect x="716" y="546" width="1" height="11" fill="#c0c0c0"/>
<rect x="724" y="546" width="1" height="11" fill="#c0c0c0"/>
<rect x="732" y="546" width="1" height="10" fill="#c0c0c0"/>
<rect x="740" y="546" width="1" height="11" fill="#c0c0c0"/>
<rect x="748" y="546" width="1" height="11" fill="#c0c0c0"/>
<rect x="756" y="546" width="1" height="10" fill="#c0c0c0"/>
<rect x="764" y="546" width="1" height="5" fill="#c0c0c0"/>
<rect x="772" y="546" width="1" height="1" fill="#c0c0c0"/>
<rect x="780" y="545" width="1" height="2" fill="#c0c0c0"/>
<rect x="788" y="543" width="1" height="4" fill="#c0c0c0"/>
<rect x="796" y="541" width="1" height="6" fill="#c0c0c0"/>
<rect x="804" y="540" width="1" height="7" fill="#c0c0c0"/>
<rect x="812" y="542" width="1" height="5" fill="#c0c0c0"/>
<rect x="820" y="544" width="1" height="3" fill="#c0c0c0"/>
<rect x="828" y="545" width="1" height="2" fill="#c0c0c0"/>
<rect x="836" y="546" width="1" height="1" fill="#c0c0c0"/>
<rect x="844" y="546" width="1" height="2" fill="#c0c0c0"/>
<rect x="852" y="546" width="1" height="4" fill="#c0c0c0"/>
<rect x="860" y="546" width="1" height="6" fill="#c0c0c0"/>
<rect x="868" y="546" width="1" height="6" fill="#c0c0c0"/>
<rect x="876" y="546" width="1" height="5" fill="#c0c0c0"/>
<rect x="884" y="546" width="1" height="6" fill="#c0c0c0"/>
<rect x="892" y="546" width="1" height="4" fill="#c0c0c0"/>
<rect x="900" y="546" width="1" height="1" fill="#c0c0c0"/>
<rect x="908" y="546" width="1" height="1" fill="#c0c0c0"/>
<rect x="916" y="546" width="1" height="3" fill="#c0c0c0"/>
<rect x="924" y="546" width="1" height="4" fill="#c0c0c0"/>
<rect x="932" y="546" width="1" height="4" fill="#c0c0c0"/>
<rect x="940" y="546" width="1" height="5" fill="#c0c0c0"/>
<rect x="948" y="546" width="1" height="6" fill="#c0c0c0"/>
<rect x="956" y="546" width="1" height="7" fill="#c0c0c0"/>
<rect x="964" y="546" width="1" height="10" fill="#c0c0c0"/>
<rect x="972" y="546" width="1" height="13" fill="#c0c0c0"/>
<rect x="980" y="546" width="1" height="15" fill="#c0c0c0"/>
<rect x="988" y="546" width="1" height="17" fill="#c0c0c0"/>
<rect x="996" y="546" width="1" height="19" fill="#c0c0c0"/>
<rect x="1004" y="546" width="1" height="21" fill="#c0c0c0"/>
<rect x="1012" y="546" width="1" height="22" fill="#c0c0c0"/>
<rect x="1020" y="546" width="1" height="25" fill="#c0c0c0"/>
<rect x="1028" y="546" width="1" height="25" fill="#c0c0c0"/>
<rect x="1036" y="546" width="1" height="25" fill="#c0c0c0"/>
<rect x="1044" y="546" width="1" height="25" fill="#c0c0c0"/>
<rect x="1052" y="546" width="1" height="24" fill="#c0c0c0"/>
<rect x="1060" y="546" width="1" height="24" fill="#c0c0c0"/>
<rect x="1068" y="546" width="1" height="24" fill="#c0c0c0"/>
<rect x="1076" y="546" width="1" height="24" fill="#c0c0c0"/>
<rect x="1084" y="546" width="1" height="24" fill="#c0c0c0"/>
<rect x="1092" y="546" width="1" height="24" fill="#c0c0c0"/>
<rect x="1100" y="546" width="1" height="24" fill="#c0c0c0"/>
<rect x="1108" y="546" width="1" height="24" fill="#c0c0c0"/>
<rect x="1116" y="546" width="1" height="23" fill="#c0c0c0"/>
<rect x="1124" y="546" width="1" height="23" fill="#c0c0c0"/>
<rect x="1132" y="546" width="1" height="20" fill="#c0c0c0"/>
<rect x="1140" y="546" width="1" height="17" fill="#c0c0c0"/>
<rect x="1148" y="546" width="1" height="14" fill="#c0c0c0"/>
<rect x="1156" y="546" width="1" height="11" fill="#c0c0c0"/>
<rect x="1164" y="546" width="1" height="9" fill="#c0c0c0"/>
<rect x="1172" y="546" width="1" height="7" fill="#c0c0c0"/>
<rect x="1180" y="546" width="1" height="4" fill="#c0c0c0"/>
<rect x="1188" y="546" width="1" height="2" fill="#c0c0c0"/>
<rect x="1196" y="546" width="1" height="1" fill="#c0c0c0"/>
<rect x="1204" y="545" width="1" height="2" fill="#c0c0c0"/>
<rect x="1212" y="544" width="1" height="3" fill="#c0c0c0"/>
<rect x="1220" y="542" width="1" height="5" fill="#c0c0c0"/>
<rect x="1228" y="543" width="1" height="4" fill="#c0c0c0"/>
<rect x="1236" y="543" width="1" height="4" fill="#c0c0c0"/>
<rect x="1244" y="542" width="1" height="5" fill="#c0c0c0"/>
<rect x="1252" y="540" width="1" height="7" fill="#c0c0c0"/>
<rect x="1260" y="539" width="1" height="8" fill="#c0c0c0"/>
<rect x="1268" y="539" width="1" height="8" fill="#c0c0c0"/>
<rect x="1276" y="537" width="1" height="10" fill="#c0c0c0"/>
<rect x="1284" y="537" width="1" height="10" fill="#c0c0c0"/>
<path d="M130,527.5h3M136,528.5h3M142,528.5h3M148,528.5h2M124,529.5h2M118,530.5h2M154,530.5h3M112,531.5h2M160,531.5h2M106,532.5h3M100,533.5h3M166,533.5h2M94,534.5h2M89,535.5h2M173,536.5h2M83,538.5h2M178,539.5h2M496,539.5h3M502,539.5h3M508,539.5h3M514,539.5h3M1282,539.5h3M490,540.5h3M520,540.5h3M526,540.5h3M532,540.5h3M634,540.5h3M640,540.5h3M646,540.5h3M652,540.5h3M658,540.5h3M1276,540.5h3M77,541.5h2M538,541.5h3M610,541.5h3M616,541.5h3M622,541.5h3M628,541.5h3M664,541.5h2M1264,541.5h3M1270,541.5h2M184,542.5h3M484,542.5h2M544,542.5h3M550,542.5h3M556,542.5h3M670,542.5h2M1258,542.5h3M478,543.5h2M562,543.5h3M592,543.5h3M598,543.5h3M604,543.5h2M676,543.5h3M826,543.5h3M832,543.5h3M838,543.5h3M844,543.5h3M850,543.5h3M1252,543.5h3M70,544.5h2M472,544.5h3M568,544.5h3M574,544.5h3M580,544.5h3M586,544.5h3M682,544.5h3M820,544.5h3M856,544.5h3M1234,544.5h3M1240,544.5h3M1246,544.5h2M191,545.5h2M688,545.5h3M808,545.5h3M814,545.5h2M862,545.5h3M64,546.5h3M466,546.5h3M694,546.5h2M803,546.5h2M868,546.5h3M1228,546.5h2M874,547.5h3M1222,547.5h3M59,548.5h2M197,548.5h2M460,548.5h2M700,548.5h2M880,548.5h3M886,548.5h3M892,548.5h3M454,549.5h2M796,549.5h2M898,549.5h3M904,549.5h3M910,549.5h3M916,549.5h3M922,549.5h3M928,549.5h3M934,549.5h3M940,549.5h3M946,549.5h3M952,549.5h3M958,549.5h2M1216,549.5h2M448,550.5h3M706,550.5h3M790,550.5h3M964,550.5h3M1210,550.5h3M52,551.5h2M202,551.5h2M712,551.5h3M718,551.5h2M784,551.5h3M970,551.5h3M46,552.5h3M442,552.5h3M724,552.5h2M778,552.5h3M976,552.5h3M982,552.5h2M1204,552.5h2M436,553.5h3M772,553.5h3M988,553.5h2M1198,553.5h3M40,554.5h3M358,554.5h3M364,554.5h3M370,554.5h3M376,554.5h3M382,554.5h2M430,554.5h3M730,554.5h3M736,554.5h3M742,554.5h3M748,554.5h3M754,554.5h3M760,554.5h3M766,554.5h2M209,555.5h2M352,555.5h2M388,555.5h3M424,555.5h3M1192,555.5h2M34,556.5h3M347,556.5h2M394,556.5h3M400,556.5h3M406,556.5h3M412,556.5h3M418,556.5h3M995,556.5h2M1187,556.5h2M28,557.5h3M214,557.5h2M1000,557.5h2M22,558.5h2M16,559.5h2M220,559.5h2M340,559.5h2M1006,559.5h3M1180,559.5h2M10,560.5h3M1012,560.5h2M1174,560.5h3M4,561.5h3M334,561.5h2M227,562.5h2M1018,562.5h3M1168,562.5h2M328,563.5h2M1024,563.5h3M1030,563.5h2M1162,563.5h3M322,564.5h3M1036,564.5h2M1150,564.5h3M1156,564.5h3M233,565.5h2M1144,565.5h2M316,566.5h2M1042,566.5h3M1132,566.5h3M1138,566.5h3M238,567.5h3M310,567.5h3M1048,567.5h2M1114,567.5h3M1120,567.5h3M1126,567.5h2M244,568.5h2M1054,568.5h3M1060,568.5h3M1066,568.5h3M1072,568.5h3M1078,568.5h3M1084,568.5h3M1090,568.5h3M1096,568.5h3M1102,568.5h3M1108,568.5h3M304,569.5h3M250,570.5h3M256,571.5h2M298,571.5h3M262,572.5h2M292,572.5h3M268,573.5h3M274,573.5h3M280,573.5h3M286,573.5h2M18.5,558v1M24.5,557v1M54.5,550v1M58.5,549v1M72.5,543v1M76.5,542v1M82.5,539v1M88.5,536v1M96.5,533v1M114.5,530v1M120.5,529v1M126.5,528v1M150.5,529v1M162.5,532v1M168.5,534v1M172.5,535v1M180.5,540v1M190.5,544v1M196.5,547v1M204.5,552v1M208.5,554v1M216.5,558v1M222.5,560v1M226.5,561v1M232.5,564v1M246.5,569v1M258.5,572v1M264.5,573v1M288.5,572v1M318.5,565v1M330.5,562v1M336.5,560v1M342.5,558v1M346.5,557v1M354.5,554v1M384.5,555v1M456.5,548v1M462.5,547v1M480.5,542v1M486.5,541v1M606.5,542v1M666.5,542v1M672.5,543v1M696.5,547v1M702.5,549v1M720.5,552v1M726.5,553v1M768.5,553v1M798.5,548v1M802.5,547v1M816.5,544v1M960.5,550v1M984.5,553v1M990.5,554v1M994.5,555v1M1002.5,558v1M1014.5,561v1M1032.5,564v1M1038.5,565v1M1050.5,568v1M1128.5,566v1M1146.5,564v1M1170.5,561v1M1182.5,558v1M1186.5,557v1M1194.5,554v1M1206.5,551v1M1218.5,548v1M1230.5,545v1M1248.5,543v1M1272.5,540v1" fill="none" stroke="#ff0000" stroke-width="1"/>
<line x1="4" y1="620.5" x2="1623" y2="620.5" stroke="#c0c0c0" stroke-width="1" stroke-dasharray="3 3" stroke-dashoffset="5"/>
<line x1="4" y1="670.5" x2="1623" y2="670.5" stroke="#c0c0c0" stroke-width="1" stroke-dasharray="3 3" stroke-dashoffset="5"/>
<path d="M48,619.5h2M77,621.5h2M79,622.5h2M72,623.5h2M81,623.5h2M108,623.5h9M83,624.5h2M106,624.5h2M85,625.5h2M104,625.5h2M87,626.5h2M64,627.5h5M89,627.5h2M101,627.5h2M1274,627.5h3M60,628.5h4M91,628.5h10M1270,628.5h4M1266,629.5h4M1250,630.5h6M1262,630.5h4M434,631.5h2M1246,631.5h4M1256,631.5h6M764,632.5h3M1244,632.5h2M18,633.5h19M288,633.5h5M767,633.5h2M784,633.5h13M14,634.5h4M284,634.5h4M430,634.5h2M610,634.5h3M769,634.5h2M776,634.5h8M797,634.5h2M892,634.5h3M1219,634.5h2M12,635.5h2M586,635.5h2M589,635.5h2M606,635.5h4M771,635.5h5M799,635.5h2M1195,635.5h2M1217,635.5h2M584,636.5h2M603,636.5h3M801,636.5h2M896,636.5h2M1193,636.5h2M1197,636.5h2M1215,636.5h2M450,637.5h3M592,637.5h2M600,637.5h3M803,637.5h2M898,637.5h2M1191,637.5h2M1199,637.5h2M1213,637.5h2M446,638.5h4M474,638.5h3M581,638.5h2M594,638.5h2M598,638.5h2M1189,638.5h2M1201,638.5h2M1208,638.5h5M444,639.5h2M454,639.5h2M470,639.5h4M579,639.5h2M596,639.5h2M1203,639.5h5M467,640.5h3M478,640.5h2M491,640.5h2M547,640.5h5M576,640.5h3M1160,640.5h13M464,641.5h3M489,641.5h2M493,641.5h2M544,641.5h3M552,641.5h5M574,641.5h2M1152,641.5h8M416,642.5h2M458,642.5h2M462,642.5h2M487,642.5h2M495,642.5h2M542,642.5h2M557,642.5h2M571,642.5h3M904,642.5h2M1146,642.5h6M1228,642.5h9M460,643.5h2M482,643.5h2M485,643.5h2M497,643.5h2M538,643.5h4M569,643.5h2M1142,643.5h4M301,644.5h2M320,644.5h2M499,644.5h2M534,644.5h4M560,644.5h2M567,644.5h2M1138,644.5h4M501,645.5h2M528,645.5h6M562,645.5h2M565,645.5h2M1134,645.5h4M304,646.5h2M338,646.5h2M341,646.5h2M523,646.5h5M620,646.5h25M909,646.5h2M1132,646.5h2M306,647.5h2M324,647.5h2M336,647.5h2M343,647.5h2M400,647.5h5M504,647.5h2M521,647.5h2M645,647.5h2M659,647.5h2M730,647.5h3M326,648.5h2M345,648.5h2M396,648.5h4M506,648.5h2M519,648.5h2M657,648.5h2M716,648.5h4M726,648.5h4M755,648.5h2M812,648.5h4M912,648.5h2M125,649.5h2M328,649.5h3M333,649.5h2M347,649.5h10M394,649.5h2M508,649.5h4M517,649.5h2M648,649.5h2M655,649.5h2M720,649.5h6M752,649.5h3M816,649.5h14M914,649.5h2M139,650.5h3M331,650.5h2M357,650.5h2M392,650.5h2M512,650.5h5M650,650.5h2M653,650.5h2M750,650.5h2M830,650.5h4M882,650.5h3M916,650.5h4M928,650.5h5M128,651.5h2M136,651.5h3M142,651.5h2M359,651.5h2M664,651.5h2M747,651.5h3M834,651.5h3M878,651.5h4M920,651.5h8M130,652.5h2M134,652.5h2M144,652.5h3M162,652.5h3M361,652.5h2M389,652.5h2M745,652.5h2M837,652.5h2M866,652.5h12M132,653.5h2M147,653.5h5M158,653.5h4M363,653.5h2M380,653.5h9M743,653.5h2M839,653.5h2M862,653.5h4M152,654.5h6M365,654.5h2M378,654.5h2M741,654.5h2M841,654.5h2M858,654.5h4M376,655.5h2M669,655.5h2M683,655.5h3M699,655.5h3M843,655.5h5M854,655.5h4M368,656.5h2M681,656.5h2M686,656.5h2M696,656.5h3M702,656.5h2M848,656.5h6M370,657.5h2M373,657.5h2M672,657.5h2M679,657.5h2M688,657.5h3M694,657.5h2M704,657.5h3M674,658.5h2M677,658.5h2M691,658.5h3M707,658.5h2M940,658.5h17M1050,659.5h2M1053,659.5h2M958,660.5h2M1067,660.5h3M192,661.5h8M1056,661.5h2M1064,661.5h3M1070,661.5h4M188,662.5h4M200,662.5h6M1028,662.5h10M1046,662.5h2M1058,662.5h2M1062,662.5h2M1074,662.5h19M206,663.5h2M962,663.5h2M1038,663.5h4M1060,663.5h2M1093,663.5h2M208,664.5h3M242,664.5h3M1042,664.5h3M1095,664.5h2M211,665.5h13M238,665.5h4M245,665.5h2M965,665.5h2M979,665.5h2M1097,665.5h2M224,666.5h14M247,666.5h2M977,666.5h2M1099,666.5h5M1112,666.5h8M173,667.5h2M249,667.5h2M968,667.5h2M975,667.5h2M982,667.5h2M1104,667.5h8M1120,667.5h5M251,668.5h3M267,668.5h2M970,668.5h2M973,668.5h2M176,669.5h2M254,669.5h2M264,669.5h3M1000,669.5h13M178,670.5h2M256,670.5h3M262,670.5h2M986,670.5h2M992,670.5h8M259,671.5h3M988,671.5h4M4.5,643v1M5.5,642v1M6.5,641v1M7.5,640v1M8.5,639v1M9.5,638v1M10.5,637v1M11.5,636v1M37.5,632v1M38.5,630v2M39.5,629v1M40.5,628v1M41.5,627v1M42.5,625v2M43.5,624v1M44.5,623v1M45.5,622v1M46.5,621v1M47.5,620v1M50.5,618v1M51.5,617v1M52.5,616v1M53.5,617v2M54.5,619v1M55.5,620v2M56.5,622v1M57.5,623v2M58.5,625v1M59.5,626v2M69.5,626v1M70.5,625v1M71.5,624v1M74.5,622v1M75.5,621v1M76.5,620v1M103.5,626v1M116.5,624v1M117.5,625v3M118.5,628v3M119.5,631v3M120.5,634v4M121.5,638v3M122.5,641v3M123.5,644v3M124.5,647v2M127.5,650v1M165.5,653v2M166.5,655v2M167.5,657v2M168.5,659v1M169.5,660v2M170.5,662v2M171.5,664v2M172.5,666v1M175.5,668v1M180.5,671v1M181.5,670v1M182.5,669v1M183.5,668v1M184.5,666v2M185.5,665v1M186.5,664v1M187.5,663v1M269.5,666v2M270.5,664v2M271.5,663v1M272.5,661v2M273.5,660v1M274.5,658v2M275.5,656v2M276.5,654v2M277.5,652v2M278.5,649v3M279.5,646v3M280.5,644v2M281.5,641v3M282.5,638v3M283.5,636v2M284.5,635v1M293.5,634v1M294.5,635v2M295.5,637v1M296.5,638v1M297.5,639v1M298.5,640v2M299.5,642v1M300.5,643v1M303.5,645v1M308.5,648v1M309.5,647v1M310.5,646v1M311.5,645v1M312.5,644v1M313.5,643v1M314.5,642v1M315.5,641v1M316.5,640v1M317.5,641v1M318.5,642v1M319.5,643v1M322.5,645v1M323.5,646v1M335.5,648v1M340.5,645v1M367.5,655v1M372.5,658v1M375.5,656v1M391.5,651v1M405.5,646v1M406.5,645v1M407.5,644v1M408.5,642v2M409.5,641v1M410.5,640v1M411.5,639v1M412.5,638v1M413.5,639v1M414.5,640v1M415.5,641v1M418.5,643v1M419.5,644v1M420.5,645v1M421.5,644v1M422.5,643v1M423.5,642v1M424.5,640v2M425.5,639v1M426.5,638v1M427.5,637v1M428.5,636v1M429.5,635v1M432.5,633v1M433.5,632v1M436.5,630v1M437.5,631v1M438.5,632v1M439.5,633v1M440.5,634v2M441.5,636v1M442.5,637v1M443.5,638v1M453.5,638v1M456.5,640v1M457.5,641v1M477.5,639v1M480.5,641v1M481.5,642v1M484.5,644v1M503.5,646v1M559.5,643v1M564.5,646v1M583.5,637v1M588.5,634v1M591.5,636v1M613.5,635v2M614.5,637v1M615.5,638v2M616.5,640v1M617.5,641v2M618.5,643v1M619.5,644v2M647.5,648v1M652.5,651v1M661.5,648v1M662.5,649v1M663.5,650v1M666.5,652v1M667.5,653v1M668.5,654v1M671.5,656v1M676.5,659v1M709.5,657v1M710.5,655v2M711.5,654v1M712.5,653v1M713.5,652v1M714.5,650v2M715.5,649v1M733.5,648v1M734.5,649v1M735.5,650v1M736.5,651v1M737.5,652v1M738.5,653v1M739.5,654v1M740.5,655v1M756.5,647v1M757.5,645v2M758.5,643v2M759.5,641v2M760.5,639v2M761.5,637v2M762.5,635v2M763.5,633v2M764.5,631v1M805.5,638v2M806.5,640v1M807.5,641v1M808.5,642v2M809.5,644v1M810.5,645v1M811.5,646v2M884.5,649v1M885.5,647v2M886.5,645v2M887.5,643v2M888.5,641v2M889.5,639v2M890.5,637v2M891.5,635v2M892.5,633v1M895.5,635v1M900.5,638v1M901.5,639v1M902.5,640v1M903.5,641v1M906.5,643v1M907.5,644v1M908.5,645v1M911.5,647v1M933.5,651v1M934.5,652v1M935.5,653v1M936.5,654v1M937.5,655v1M938.5,656v1M939.5,657v1M957.5,659v1M960.5,661v1M961.5,662v1M964.5,664v1M967.5,666v1M972.5,669v1M981.5,666v1M984.5,668v1M985.5,669v1M1013.5,670v1M1014.5,671v1M1015.5,672v1M1016.5,673v2M1017.5,675v1M1018.5,676v1M1019.5,677v1M1020.5,678v1M1021.5,676v2M1022.5,674v2M1023.5,672v2M1024.5,670v2M1025.5,668v2M1026.5,666v2M1027.5,664v2M1028.5,663v1M1045.5,663v1M1048.5,661v1M1049.5,660v1M1052.5,658v1M1055.5,660v1M1124.5,666v1M1125.5,664v2M1126.5,661v3M1127.5,658v3M1128.5,656v2M1129.5,653v3M1130.5,650v3M1131.5,648v2M1132.5,647v1M1173.5,638v2M1174.5,636v2M1175.5,634v2M1176.5,633v1M1177.5,631v2M1178.5,629v2M1179.5,627v2M1180.5,626v1M1181.5,627v2M1182.5,629v2M1183.5,631v1M1184.5,632v2M1185.5,634v1M1186.5,635v2M1187.5,637v2M1188.5,639v1M1221.5,635v1M1222.5,636v1M1223.5,637v1M1224.5,638v1M1225.5,639v1M1226.5,640v1M1227.5,641v1M1237.5,641v1M1238.5,639v2M1239.5,638v1M1240.5,637v1M1241.5,636v1M1242.5,634v2M1243.5,633v1M1277.5,628v1M1278.5,629v1M1279.5,630v1M1280.5,631v2M1281.5,633v1M1282.5,634v1M1283.5,635v1M1284.5,636v1" fill="none" stroke="#1e90ff" stroke-width="1"/>
</g>
<g shape-rendering="crispEdges">
<rect x="1624" y="58" width="2" height="1" fill="#000"/>
<rect x="1624" y="107" width="2" height="1" fill="#000"/>
<rect x="1624" y="156" width="2" height="1" fill="#000"/>
<rect x="1624" y="205" width="2" height="1" fill="#000"/>
<rect x="1624" y="254" width="2" height="1" fill="#000"/>
<rect x="1624" y="303" width="2" height="1" fill="#000"/>
<rect x="1624" y="352" width="2" height="1" fill="#000"/>
<rect x="1624" y="401" width="2" height="1" fill="#000"/>
<rect x="1624" y="450" width="2" height="1" fill="#000"/>
<rect x="1624" y="499" width="2" height="1" fill="#000"/>
<rect x="1624" y="520" width="2" height="1" fill="#000"/>
<rect x="1624" y="546" width="2" height="1" fill="#000"/>
<rect x="1624" y="580" width="2" height="1" fill="#000"/>
<rect x="1624" y="582" width="2" height="1" fill="#000"/>
<rect x="1624" y="707" width="2" height="1" fill="#000"/>
<rect x="4" y="708" width="1" height="3" fill="#000"/>
<rect x="100" y="708" width="1" height="3" fill="#000"/>
<rect x="196" y="708" width="1" height="3" fill="#000"/>
<rect x="292" y="708" width="1" height="3" fill="#000"/>
<rect x="388" y="708" width="1" height="3" fill="#000"/>
<rect x="484" y="708" width="1" height="3" fill="#000"/>
<rect x="580" y="708" width="1" height="3" fill="#000"/>
<rect x="676" y="708" width="1" height="3" fill="#000"/>
<rect x="772" y="708" width="1" height="3" fill="#000"/>
<rect x="868" y="708" width="1" height="3" fill="#000"/>
<rect x="964" y="708" width="1" height="3" fill="#000"/>
<rect x="1060" y="708" width="1" height="3" fill="#000"/>
<rect x="1156" y="708" width="1" height="3" fill="#000"/>
<rect x="1252" y="708" width="1" height="3" fill="#000"/>
</g>
<text transform="translate(1630,62.5) scale(0.9615,1)" font-size="13.0" fill="#000" text-anchor="start">3461.0</text>
<text transform="translate(1630,111.5) scale(0.9615,1)" font-size="13.0" fill="#000" text-anchor="start">3404.0</text>
<text transform="translate(1630,160.5) scale(0.9615,1)" font-size="13.0" fill="#000" text-anchor="start">3347.0</text>
<text transform="translate(1630,209.5) scale(0.9615,1)" font-size="13.0" fill="#000" text-anchor="start">3291.0</text>
<text transform="translate(1630,258.5) scale(0.9615,1)" font-size="13.0" fill="#000" text-anchor="start">3234.0</text>
<text transform="translate(1630,307.5) scale(0.9615,1)" font-size="13.0" fill="#000" text-anchor="start">3177.0</text>
<text transform="translate(1630,405.5) scale(0.9615,1)" font-size="13.0" fill="#000" text-anchor="start">3063.0</text>
<text transform="translate(1630,454.5) scale(0.9615,1)" font-size="13.0" fill="#000" text-anchor="start">3006.0</text>
<g shape-rendering="crispEdges">
</g>
<g shape-rendering="crispEdges">
<rect x="1625" y="351" width="49" height="13" fill="#000"/>
</g>
<text transform="translate(1630,362.8) scale(0.9615,1)" font-size="13.0" fill="#fff" text-anchor="start">3114.8</text>
<g shape-rendering="crispEdges">
<rect x="1625" y="135" width="49" height="14" fill="#ff0000"/>
</g>
<text transform="translate(1630,146.8) scale(0.9615,1)" font-size="13.0" fill="#fff" text-anchor="start">3365.0</text>
<g shape-rendering="crispEdges">
<rect x="1625" y="288" width="49" height="14" fill="#ff0000"/>
</g>
<text transform="translate(1630,299.8) scale(0.9615,1)" font-size="13.0" fill="#fff" text-anchor="start">3187.5</text>
<g shape-rendering="crispEdges">
<rect x="1625" y="343" width="49" height="14" fill="#ff0000"/>
</g>
<text transform="translate(1630,354.8) scale(0.9615,1)" font-size="13.0" fill="#fff" text-anchor="start">3123.5</text>
<g shape-rendering="crispEdges">
<rect x="1625" y="399" width="49" height="14" fill="#00ff7f"/>
</g>
<text transform="translate(1630,410.8) scale(0.9615,1)" font-size="13.0" fill="#fff" text-anchor="start">3058.6</text>
<g shape-rendering="crispEdges">
<rect x="1625" y="448" width="49" height="14" fill="#0000ff"/>
</g>
<text transform="translate(1630,459.8) scale(0.9615,1)" font-size="13.0" fill="#fff" text-anchor="start">3001.6</text>
<g shape-rendering="crispEdges">
<rect x="1625" y="507" width="49" height="14" fill="#008000"/>
</g>
<text transform="translate(1630,518.8) scale(0.9615,1)" font-size="13.0" fill="#fff" text-anchor="start">2933.8</text>
<g shape-rendering="crispEdges">
<rect x="1625" y="493" width="49" height="14" fill="#0000cd"/>
</g>
<text transform="translate(1630,504.8) scale(0.9615,1)" font-size="13.0" fill="#fff" text-anchor="start">2949.2</text>
<text transform="translate(1627,534.7) scale(0.9615,1)" font-size="13.0" fill="#000" text-anchor="start">51.14</text>
<text transform="translate(1627,551.3) scale(0.9615,1)" font-size="13.0" fill="#000" text-anchor="start">0.00</text>
<text transform="translate(1627,577.1) scale(0.9615,1)" font-size="13.0" fill="#000" text-anchor="start">-68.3</text>
<text transform="translate(1627,596.1) scale(0.9615,1)" font-size="13.0" fill="#000" text-anchor="start">100</text>
<text transform="translate(1627,625) scale(0.9615,1)" font-size="13.0" fill="#000" text-anchor="start">70</text>
<text transform="translate(1627,675) scale(0.9615,1)" font-size="13.0" fill="#000" text-anchor="start">30</text>
<text transform="translate(1627,704.5) scale(0.9615,1)" font-size="13.0" fill="#000" text-anchor="start">0</text>
<text transform="translate(3,722.8) scale(0.9615,1)" font-size="13.0" fill="#000" text-anchor="start">18 Sep 2018</text>
<text transform="translate(99,722.8) scale(0.9615,1)" font-size="13.0" fill="#000" text-anchor="start">27 Sep 05:00</text>
<text transform="translate(195,722.8) scale(0.9615,1)" font-size="13.0" fill="#000" text-anchor="start">12 Oct 05:00</text>
<text transform="translate(291,722.8) scale(0.9615,1)" font-size="13.0" fill="#000" text-anchor="start">22 Oct 05:00</text>
<text transform="translate(387,722.8) scale(0.9615,1)" font-size="13.0" fill="#000" text-anchor="start">30 Oct 05:00</text>
<text transform="translate(483,722.8) scale(0.9615,1)" font-size="13.0" fill="#000" text-anchor="start">7 Nov 05:00</text>
<text transform="translate(579,722.8) scale(0.9615,1)" font-size="13.0" fill="#000" text-anchor="start">15 Nov 05:00</text>
<text transform="translate(675,722.8) scale(0.9615,1)" font-size="13.0" fill="#000" text-anchor="start">23 Nov 05:00</text>
<text transform="translate(771,722.8) scale(0.9615,1)" font-size="13.0" fill="#000" text-anchor="start">3 Dec 05:00</text>
<text transform="translate(867,722.8) scale(0.9615,1)" font-size="13.0" fill="#000" text-anchor="start">11 Dec 05:00</text>
<text transform="translate(963,722.8) scale(0.9615,1)" font-size="13.0" fill="#000" text-anchor="start">19 Dec 05:00</text>
<text transform="translate(1059,722.8) scale(0.9615,1)" font-size="13.0" fill="#000" text-anchor="start">27 Dec 05:00</text>
<text transform="translate(1155,722.8) scale(0.9615,1)" font-size="13.0" fill="#000" text-anchor="start">7 Jan 05:00</text>
<text transform="translate(1251,722.8) scale(0.9615,1)" font-size="13.0" fill="#000" text-anchor="start">15 Jan 05:00</text>
<polygon points="7,49.5 16,49.5 11.5,44" fill="#000"/>
<text x="22.5" y="50.8" font-size="13.0" fill="#000" text-anchor="start" textLength="77.4" lengthAdjust="spacingAndGlyphs">CHINA300-,H4</text>
<text x="108.5" y="50.8" font-size="13.0" fill="#000" text-anchor="start" textLength="39.6" lengthAdjust="spacingAndGlyphs">3144.8</text>
<text x="151.5" y="50.8" font-size="13.0" fill="#000" text-anchor="start" textLength="39.6" lengthAdjust="spacingAndGlyphs">3144.8</text>
<text x="194.2" y="50.8" font-size="13.0" fill="#000" text-anchor="start" textLength="39.6" lengthAdjust="spacingAndGlyphs">3111.0</text>
<text x="237" y="50.8" font-size="13.0" fill="#000" text-anchor="start" textLength="39.6" lengthAdjust="spacingAndGlyphs">3114.8</text>
<text transform="translate(8,536) scale(0.9615,1)" font-size="13.0" fill="#000" text-anchor="start">MACD(12,26,9) 21.11 14.24</text>
<text transform="translate(8,598) scale(0.9615,1)" font-size="13.0" fill="#000" text-anchor="start">RSI(14) 56.8181</text>
<g shape-rendering="crispEdges">
<rect x="4" y="57" width="288" height="80" fill="#ffffff"/>
<rect x="7" y="59" width="68" height="27.5" fill="url(#gSell)"/>
<rect x="222" y="59" width="68" height="27.5" fill="url(#gSell)"/>
<rect x="7" y="86" width="141" height="49" fill="url(#gPrice)"/>
<rect x="150" y="86" width="140" height="49" fill="url(#gPrice)"/>
<path d="M7.5,59.5 H74.5 V86.5 H222.5 V59.5 H289.5 V134.5 H7.5 Z" fill="none" stroke="#c00808" stroke-width="1"/>
<path d="M147.5,86.5 V134.5 M150.5,86.5 V134.5" fill="none" stroke="#b80606" stroke-width="1"/>
<rect x="148" y="86" width="2" height="49" fill="#ffffff"/>
<rect x="11" y="85" width="60" height="1" fill="#8b0000"/>
<rect x="11" y="86" width="60" height="1" fill="#f57070"/>
<rect x="226" y="85" width="60" height="1" fill="#8b0000"/>
<rect x="226" y="86" width="60" height="1" fill="#f57070"/>
<rect x="77" y="59" width="143" height="25" fill="#a9aebd"/>
<rect x="78" y="60" width="141" height="23" fill="#ffffff"/>
<rect x="79" y="61" width="21" height="21" fill="url(#gBtn)"/>
<rect x="101" y="60" width="1" height="23" fill="#a9aebd"/>
<rect x="195" y="60" width="1" height="23" fill="#a9aebd"/>
<rect x="197" y="61" width="21" height="21" fill="url(#gBtn)"/>
</g>
<polygon points="86.2,70.2 93.3,70.2 89.75,74.3" fill="#5568bd"/>
<polygon points="204,73.5 211.1,73.5 207.55,69.1" fill="#5568bd"/>
<text x="40.6" y="77.8" font-size="14.3" fill="#fff" text-anchor="middle">SELL</text>
<text x="255.8" y="77.8" font-size="14.3" fill="#fff" text-anchor="middle">BUY</text>
<text x="161.2" y="77.1" font-size="15.1" fill="#000" text-anchor="start" textLength="31" lengthAdjust="spacingAndGlyphs">1.00</text>
<text x="37.2" y="124.4" font-size="16" fill="#fff" text-anchor="start" font-weight="bold" textLength="36.2" lengthAdjust="spacingAndGlyphs">3113</text>
<text x="179.3" y="124.4" font-size="16" fill="#fff" text-anchor="start" font-weight="bold" textLength="36.2" lengthAdjust="spacingAndGlyphs">3118</text>
<rect x="78.7" y="119" width="5.4" height="5.2" rx="1.2" fill="#fff"/>
<rect x="221.1" y="119" width="5.4" height="5.2" rx="1.2" fill="#fff"/>
<g transform="translate(86,124.7) scale(0.9,1)"><text x="0" y="0" font-size="43" fill="#fff">3</text></g>
<g transform="translate(228,124.7) scale(0.9,1)"><text x="0" y="0" font-size="43" fill="#fff">9</text></g>
<g fill="none" stroke="#ff1a00" stroke-width="2.25" stroke-linecap="butt" stroke-linejoin="miter">
<path d="M1175.6,200.5 L1161.2,209.5"/>
<path d="M1171.8,204 H1186.6 C1182,209.5 1174,215 1160.6,217.2"/>
<path d="M1169.3,208.6 L1180,213.2"/>
<path d="M1180.5,212.8 L1162.5,222.9"/>
<path d="M1175.6,215.2 H1188.2 C1184,222 1175,228 1161.2,230.4"/>
<path d="M1173,221.4 L1178.2,225"/>
<path d="M1206.7,200.6 L1208.9,203.8"/>
<path d="M1194.6,209.7 V204.6 H1221.4 V209.7"/>
<path d="M1204.9,208.4 L1193.2,215.8"/>
<path d="M1211.4,208.4 L1223.1,215.8"/>
<path d="M1197.1,218 H1219.5"/>
<path d="M1208.3,218 V228"/>
<path d="M1193.3,228 H1223.3"/>
<path d="M1225.9,205.8 H1239"/>
<path d="M1232.5,200 L1226.9,215.8 H1238.7"/>
<path d="M1234,209.2 V230.7"/>
<path d="M1225.9,224.1 L1239.3,221.5"/>
<path d="M1241.5,205.8 H1256.2"/>
<path d="M1239.6,211.7 H1257.4"/>
<path d="M1247.7,200 L1243.7,217.6 H1255.5 L1249.3,226.7"/>
<path d="M1241.8,222.7 L1252.4,230"/>
<path d="M1259.3,206.4 H1269.3"/>
<path d="M1264.3,200 V228.2 H1259"/>
<path d="M1258.7,217.2 L1268.6,213.4"/>
<path d="M1288.6,201.5 Q1283,202.9 1272,203.1"/>
<path d="M1273,203 V216 Q1273,223 1268.4,229.4"/>
<path d="M1273,211.7 H1290.1"/>
<path d="M1283.3,211.7 V230"/>
<path d="M1307,199.2 V209.5"/>
<path d="M1307,204.2 H1322.6"/>
<path d="M1297.4,210.5 H1317.8 V218.5 H1297.4 Z"/>
<path d="M1296.6,222.3 L1292.5,229.4"/>
<path d="M1302.1,222.3 L1304.5,229.4"/>
<path d="M1309.9,222.3 L1312.6,229.4"/>
<path d="M1317.6,222.3 L1322,229.4"/>
</g>
<text x="1324.3" y="227.4" font-size="37.5" fill="#ff1a00" text-anchor="start" textLength="76" lengthAdjust="spacingAndGlyphs">3058</text>
<g shape-rendering="crispEdges">
</g>
<rect x="3.70" y="6.9" width="1.35" height="2.10" fill="#5e5e5e"/>
<rect x="6.26" y="6.9" width="1.35" height="2.10" fill="#5e5e5e"/>
<rect x="8.82" y="6.9" width="1.35" height="2.10" fill="#5e5e5e"/>
<rect x="11.38" y="6.9" width="1.35" height="2.10" fill="#5e5e5e"/>
<rect x="13.94" y="6.9" width="1.35" height="2.10" fill="#5e5e5e"/>
<rect x="16.50" y="6.9" width="1.35" height="2.10" fill="#5e5e5e"/>
<rect x="19.06" y="6.9" width="1.35" height="2.10" fill="#5e5e5e"/>
<rect x="3.70" y="10.9" width="1.35" height="2.10" fill="#5e5e5e"/>
<rect x="6.26" y="10.9" width="1.35" height="2.10" fill="#5e5e5e"/>
<rect x="8.82" y="10.9" width="1.35" height="2.10" fill="#5e5e5e"/>
<rect x="11.38" y="10.9" width="1.35" height="2.10" fill="#5e5e5e"/>
<rect x="13.94" y="10.9" width="1.35" height="2.10" fill="#5e5e5e"/>
<rect x="16.50" y="10.9" width="1.35" height="2.10" fill="#5e5e5e"/>
<rect x="19.06" y="10.9" width="1.35" height="2.10" fill="#5e5e5e"/>
<rect x="3.70" y="16.0" width="1.35" height="2.00" fill="#5e5e5e"/>
<rect x="6.26" y="16.0" width="1.35" height="2.00" fill="#5e5e5e"/>
<rect x="8.82" y="16.0" width="1.35" height="2.00" fill="#5e5e5e"/>
<rect x="11.38" y="16.0" width="1.35" height="2.00" fill="#5e5e5e"/>
<rect x="13.94" y="16.0" width="1.35" height="2.00" fill="#5e5e5e"/>
<rect x="16.50" y="16.0" width="1.35" height="2.00" fill="#5e5e5e"/>
<rect x="19.06" y="16.0" width="1.35" height="2.00" fill="#5e5e5e"/>
<rect x="3.70" y="20.9" width="1.35" height="2.10" fill="#5e5e5e"/>
<rect x="6.26" y="20.9" width="1.35" height="2.10" fill="#5e5e5e"/>
<rect x="8.82" y="20.9" width="1.35" height="2.10" fill="#5e5e5e"/>
<rect x="11.38" y="20.9" width="1.35" height="2.10" fill="#5e5e5e"/>
<rect x="13.94" y="20.9" width="1.35" height="2.10" fill="#5e5e5e"/>
<rect x="73.00" y="9.0" width="1.1" height="1.1" fill="#5e5e5e"/><rect x="73.00" y="23.8" width="1.1" height="1.1" fill="#5e5e5e"/>
<rect x="75.33" y="9.0" width="1.1" height="1.1" fill="#5e5e5e"/><rect x="75.33" y="23.8" width="1.1" height="1.1" fill="#5e5e5e"/>
<rect x="77.67" y="9.0" width="1.1" height="1.1" fill="#5e5e5e"/><rect x="77.67" y="23.8" width="1.1" height="1.1" fill="#5e5e5e"/>
<rect x="80.00" y="9.0" width="1.1" height="1.1" fill="#5e5e5e"/><rect x="80.00" y="23.8" width="1.1" height="1.1" fill="#5e5e5e"/>
<rect x="82.33" y="9.0" width="1.1" height="1.1" fill="#5e5e5e"/><rect x="82.33" y="23.8" width="1.1" height="1.1" fill="#5e5e5e"/>
<rect x="84.67" y="9.0" width="1.1" height="1.1" fill="#5e5e5e"/><rect x="84.67" y="23.8" width="1.1" height="1.1" fill="#5e5e5e"/>
<rect x="87.00" y="9.0" width="1.1" height="1.1" fill="#5e5e5e"/><rect x="87.00" y="23.8" width="1.1" height="1.1" fill="#5e5e5e"/>
<rect x="73.0" y="11.47" width="1.1" height="1.1" fill="#5e5e5e"/><rect x="87.0" y="11.47" width="1.1" height="1.1" fill="#5e5e5e"/>
<rect x="73.0" y="13.94" width="1.1" height="1.1" fill="#5e5e5e"/><rect x="87.0" y="13.94" width="1.1" height="1.1" fill="#5e5e5e"/>
<rect x="73.0" y="16.41" width="1.1" height="1.1" fill="#5e5e5e"/><rect x="87.0" y="16.41" width="1.1" height="1.1" fill="#5e5e5e"/>
<rect x="73.0" y="18.88" width="1.1" height="1.1" fill="#5e5e5e"/><rect x="87.0" y="18.88" width="1.1" height="1.1" fill="#5e5e5e"/>
<rect x="73.0" y="21.35" width="1.1" height="1.1" fill="#5e5e5e"/><rect x="87.0" y="21.35" width="1.1" height="1.1" fill="#5e5e5e"/>
<rect x="71.6" y="7.3" width="3" height="2.4" fill="#5e5e5e"/>
<rect x="75.5" y="12.3" width="10" height="1.7" fill="#6a6a6a"/><rect x="79.3" y="12.3" width="2.7" height="10.3" fill="#6a6a6a"/>
<g shape-rendering="crispEdges">
<rect x="144" y="0" width="1" height="32" fill="#8c8c8c"/>
<rect x="145" y="0" width="1" height="32" fill="#ffffff"/>
<rect x="148" y="3" width="3" height="1" fill="#9a9a9a"/>
<rect x="148" y="5" width="3" height="1" fill="#9a9a9a"/>
<rect x="148" y="7" width="3" height="1" fill="#9a9a9a"/>
<rect x="148" y="9" width="3" height="1" fill="#9a9a9a"/>
<rect x="148" y="11" width="3" height="1" fill="#9a9a9a"/>
<rect x="148" y="13" width="3" height="1" fill="#9a9a9a"/>
<rect x="148" y="15" width="3" height="1" fill="#9a9a9a"/>
<rect x="148" y="17" width="3" height="1" fill="#9a9a9a"/>
<rect x="148" y="19" width="3" height="1" fill="#9a9a9a"/>
<rect x="148" y="21" width="3" height="1" fill="#9a9a9a"/>
<rect x="148" y="23" width="3" height="1" fill="#9a9a9a"/>
<rect x="148" y="25" width="3" height="1" fill="#9a9a9a"/>
<rect x="148" y="27" width="3" height="1" fill="#9a9a9a"/>
<rect x="148" y="29" width="3" height="1" fill="#9a9a9a"/>
<rect x="459" y="0" width="1" height="32" fill="#8c8c8c"/>
<rect x="460" y="0" width="1" height="32" fill="#ffffff"/>
<rect x="325" y="2" width="30" height="28" fill="#f8f8f8"/>
<rect x="324" y="1" width="31" height="1" fill="#9c9c9c"/>
<rect x="324" y="1" width="1" height="29" fill="#9c9c9c"/>
<rect x="355" y="1" width="1" height="30" fill="#ffffff"/>
<rect x="324" y="30" width="32" height="1" fill="#ffffff"/>
</g>
<text x="41.2" y="22.6" font-size="16.6" fill="#5a5a5a" text-anchor="start" font-weight="bold" textLength="9.6" lengthAdjust="spacingAndGlyphs">A</text>
<text x="16" y="27.7" font-size="9.2" fill="#555" text-anchor="start" font-weight="bold" font-style="italic">F</text>
<polygon points="109.9,8.4 114.7,13.7 105.3,13.7" fill="#5c5c5c"/><rect x="107.9" y="13.5" width="4.1" height="1.3" fill="#5c5c5c"/>
<polygon points="118.8,25.1 123.5,19.9 114.1,19.9" fill="#5c5c5c"/><rect x="116.7" y="18.8" width="4.3" height="1.3" fill="#5c5c5c"/>
<path d="M108.3,17.5 L111.3,20.7 L116.9,13.9" fill="none" stroke="#5c5c5c" stroke-width="1.7"/>
<polygon points="128.5,15 136.5,15 132.5,19" fill="#000"/>
<text x="169.3" y="20.5" font-size="11.8" fill="#4f4f4f" text-anchor="middle">M1</text>
<text x="203.2" y="20.5" font-size="11.8" fill="#4f4f4f" text-anchor="middle">M5</text>
<text x="238" y="20.5" font-size="11.8" fill="#4f4f4f" text-anchor="middle">M15</text>
<text x="272" y="20.5" font-size="11.8" fill="#4f4f4f" text-anchor="middle">M30</text>
<text x="306" y="20.5" font-size="11.8" fill="#4f4f4f" text-anchor="middle">H1</text>
<text x="339.2" y="20.5" font-size="11.8" fill="#4f4f4f" text-anchor="middle">H4</text>
<text x="374" y="20.5" font-size="11.8" fill="#4f4f4f" text-anchor="middle">D1</text>
<text x="408.5" y="20.5" font-size="11.8" fill="#4f4f4f" text-anchor="middle">W1</text>
<text x="441" y="20.5" font-size="11.8" fill="#4f4f4f" text-anchor="middle">MN</text>
</svg>
</body></html>
